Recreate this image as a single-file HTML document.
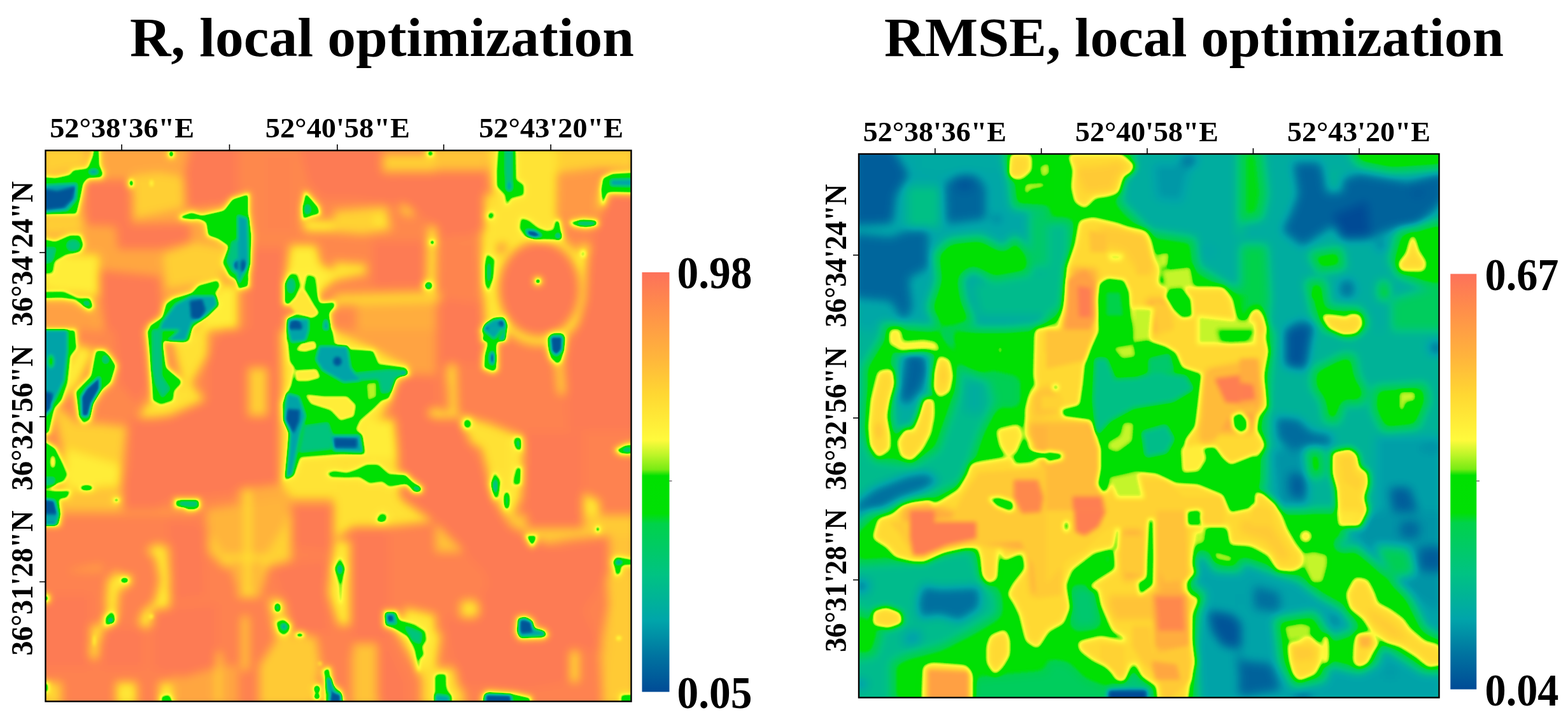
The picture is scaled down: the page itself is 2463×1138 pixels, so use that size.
<!DOCTYPE html>
<html lang="en"><head><meta charset="utf-8"><title>R and RMSE, local optimization</title>
<style>html,body{margin:0;padding:0;background:#fff;overflow:hidden}svg{display:block}text{font-family:"Liberation Serif",serif;font-weight:bold;fill:#000}</style></head>
<body>
<svg width="2463" height="1138" viewBox="0 0 2463 1138">
<defs>
<linearGradient id="cb" x1="0" y1="0" x2="0" y2="1"><stop offset="0.0000" stop-color="rgb(253,113,90)"/><stop offset="0.0800" stop-color="rgb(255,140,75)"/><stop offset="0.2000" stop-color="rgb(255,180,60)"/><stop offset="0.2900" stop-color="rgb(255,215,50)"/><stop offset="0.4000" stop-color="rgb(255,250,60)"/><stop offset="0.4350" stop-color="rgb(190,245,40)"/><stop offset="0.4700" stop-color="rgb(120,235,20)"/><stop offset="0.4850" stop-color="rgb(0,225,0)"/><stop offset="0.5750" stop-color="rgb(0,224,5)"/><stop offset="0.6000" stop-color="rgb(0,210,75)"/><stop offset="0.7200" stop-color="rgb(0,195,130)"/><stop offset="0.8300" stop-color="rgb(0,165,170)"/><stop offset="0.9150" stop-color="rgb(0,115,160)"/><stop offset="1.0000" stop-color="rgb(0,75,150)"/></linearGradient>
<filter id="cmL" x="0" y="0" width="1" height="1" filterUnits="objectBoundingBox" color-interpolation-filters="sRGB"><feGaussianBlur stdDeviation="2.4"/><feComponentTransfer><feFuncR type="table" tableValues="0.000 0.000 0.000 0.000 0.000 0.000 0.000 0.000 0.000 0.000 0.000 0.000 0.000 0.000 0.000 0.000 0.000 0.000 0.000 0.000 0.000 0.000 0.000 0.000 0.000 0.000 0.000 0.000 0.000 0.000 0.000 0.000 0.000 0.000 0.000 0.000 0.000 0.000 0.000 0.000 0.000 0.000 0.314 0.529 0.627 0.725 0.818 0.909 1.000 1.000 1.000 1.000 1.000 1.000 1.000 1.000 1.000 1.000 1.000 1.000 1.000 1.000 1.000 1.000 1.000 1.000 1.000 1.000 1.000 1.000 1.000 1.000 1.000 1.000 1.000 0.998 0.997 0.996 0.995 0.993 0.992"/><feFuncG type="table" tableValues="0.294 0.317 0.340 0.363 0.386 0.409 0.433 0.457 0.486 0.514 0.543 0.572 0.601 0.630 0.652 0.666 0.679 0.693 0.706 0.719 0.733 0.746 0.759 0.768 0.775 0.781 0.787 0.793 0.799 0.805 0.811 0.817 0.824 0.851 0.878 0.879 0.880 0.880 0.881 0.881 0.882 0.882 0.908 0.930 0.944 0.958 0.966 0.973 0.980 0.965 0.949 0.934 0.918 0.902 0.887 0.871 0.856 0.839 0.820 0.801 0.782 0.763 0.744 0.725 0.706 0.690 0.673 0.657 0.641 0.624 0.608 0.592 0.575 0.559 0.542 0.526 0.509 0.493 0.476 0.460 0.443"/><feFuncB type="table" tableValues="0.588 0.594 0.600 0.606 0.611 0.617 0.623 0.629 0.634 0.640 0.646 0.652 0.657 0.663 0.660 0.642 0.624 0.606 0.588 0.570 0.553 0.535 0.517 0.496 0.474 0.451 0.429 0.406 0.384 0.362 0.339 0.317 0.294 0.157 0.020 0.017 0.014 0.011 0.009 0.006 0.003 0.001 0.052 0.095 0.123 0.151 0.179 0.207 0.235 0.231 0.226 0.222 0.217 0.213 0.209 0.204 0.200 0.197 0.203 0.208 0.214 0.219 0.224 0.230 0.235 0.241 0.248 0.254 0.260 0.266 0.272 0.278 0.284 0.290 0.298 0.307 0.316 0.325 0.335 0.344 0.353"/><feFuncA type="linear" slope="0" intercept="1"/></feComponentTransfer></filter>
<filter id="cmR" x="0" y="0" width="1" height="1" filterUnits="objectBoundingBox" color-interpolation-filters="sRGB"><feGaussianBlur stdDeviation="3.5"/><feComponentTransfer><feFuncR type="table" tableValues="0.000 0.000 0.000 0.000 0.000 0.000 0.000 0.000 0.000 0.000 0.000 0.000 0.000 0.000 0.000 0.000 0.000 0.000 0.000 0.000 0.000 0.000 0.000 0.000 0.000 0.000 0.000 0.000 0.000 0.000 0.000 0.000 0.000 0.000 0.000 0.000 0.000 0.000 0.000 0.000 0.000 0.000 0.314 0.529 0.627 0.725 0.818 0.909 1.000 1.000 1.000 1.000 1.000 1.000 1.000 1.000 1.000 1.000 1.000 1.000 1.000 1.000 1.000 1.000 1.000 1.000 1.000 1.000 1.000 1.000 1.000 1.000 1.000 1.000 1.000 0.998 0.997 0.996 0.995 0.993 0.992"/><feFuncG type="table" tableValues="0.294 0.317 0.340 0.363 0.386 0.409 0.433 0.457 0.486 0.514 0.543 0.572 0.601 0.630 0.652 0.666 0.679 0.693 0.706 0.719 0.733 0.746 0.759 0.768 0.775 0.781 0.787 0.793 0.799 0.805 0.811 0.817 0.824 0.851 0.878 0.879 0.880 0.880 0.881 0.881 0.882 0.882 0.908 0.930 0.944 0.958 0.966 0.973 0.980 0.965 0.949 0.934 0.918 0.902 0.887 0.871 0.856 0.839 0.820 0.801 0.782 0.763 0.744 0.725 0.706 0.690 0.673 0.657 0.641 0.624 0.608 0.592 0.575 0.559 0.542 0.526 0.509 0.493 0.476 0.460 0.443"/><feFuncB type="table" tableValues="0.588 0.594 0.600 0.606 0.611 0.617 0.623 0.629 0.634 0.640 0.646 0.652 0.657 0.663 0.660 0.642 0.624 0.606 0.588 0.570 0.553 0.535 0.517 0.496 0.474 0.451 0.429 0.406 0.384 0.362 0.339 0.317 0.294 0.157 0.020 0.017 0.014 0.011 0.009 0.006 0.003 0.001 0.052 0.095 0.123 0.151 0.179 0.207 0.235 0.231 0.226 0.222 0.217 0.213 0.209 0.204 0.200 0.197 0.203 0.208 0.214 0.219 0.224 0.230 0.235 0.241 0.248 0.254 0.260 0.266 0.272 0.278 0.284 0.290 0.298 0.307 0.316 0.325 0.335 0.344 0.353"/><feFuncA type="linear" slope="0" intercept="1"/></feComponentTransfer></filter>
<filter id="b1" x="-0.1" y="-0.1" width="1.2" height="1.2" color-interpolation-filters="sRGB"><feGaussianBlur stdDeviation="7"/></filter>
<filter id="b3" x="-0.1" y="-0.1" width="1.2" height="1.2" color-interpolation-filters="sRGB"><feGaussianBlur stdDeviation="5"/></filter>
<filter id="b2" x="-0.1" y="-0.1" width="1.2" height="1.2" color-interpolation-filters="sRGB"><feGaussianBlur stdDeviation="4"/></filter>
<clipPath id="cl"><rect x="71.5" y="236.5" width="920" height="866"/></clipPath>
<clipPath id="cr"><rect x="1349" y="242" width="911.5" height="854.5"/></clipPath>
</defs>
<rect width="2463" height="1138" fill="#fff"/>
<text x="204" y="88" font-size="87" textLength="792" lengthAdjust="spacingAndGlyphs">R, local optimization</text>
<text x="1389" y="88" font-size="87" textLength="973" lengthAdjust="spacingAndGlyphs">RMSE, local optimization</text>
<g clip-path="url(#cl)">
<g filter="url(#cmL)"><rect x="51.5" y="216.5" width="960" height="906" fill="rgb(230,230,230)"/>
<g filter="url(#b1)"><polygon points="64,229 390,229 390,535 64,535" fill="rgb(214,214,214)"/>
<polygon points="133,284 205,284 205,349 184,354 136,352" fill="rgb(247,247,247)" stroke="rgb(247,247,247)" stroke-width="4" stroke-linejoin="round"/>
<polygon points="184,354 296,352 299,380 250,390 187,390" fill="rgb(247,247,247)" stroke="rgb(247,247,247)" stroke-width="4" stroke-linejoin="round"/>
<polygon points="156,426 250,436 255,492 225,535 169,535 159,466" fill="rgb(247,247,247)" stroke="rgb(247,247,247)" stroke-width="4" stroke-linejoin="round"/>
<polygon points="301,229 390,229 390,301 352,321 296,326 291,275" fill="rgb(247,247,247)" stroke="rgb(247,247,247)" stroke-width="4" stroke-linejoin="round"/>
<polygon points="64,477 123,482 148,499 148,535 64,535" fill="rgb(219,219,219)"/>
<polygon points="64,229 136,229 136,262 110,268 64,278" fill="rgb(186,186,186)"/>
<polygon points="207,275 250,270 289,278 289,326 210,344" fill="rgb(186,186,186)"/>
<polygon points="64,339 131,339 131,364 64,370" fill="rgb(186,186,186)"/>
<polygon points="64,400 156,400 156,466 64,456" fill="rgb(163,163,163)"/>
<polygon points="301,380 360,390 347,441 261,454 255,400" fill="rgb(186,186,186)"/>
<polygon points="345,449 390,449 390,535 301,535" fill="rgb(163,163,163)"/>
<polygon points="374,229 700,229 700,535 374,535" fill="rgb(237,237,237)"/>
<polygon points="469,229 599,229 599,273 700,283 700,321 611,321 560,313 509,313 484,288" fill="rgb(247,247,247)"/>
<polygon points="390,390 446,390 446,535 390,535" fill="rgb(247,247,247)"/>
<polygon points="415,242 461,242 461,364 415,364" fill="rgb(240,240,240)"/>
<polygon points="586,380 662,380 662,446 586,446" fill="rgb(247,247,247)"/>
<polygon points="601,242 685,242 685,270 601,270" fill="rgb(186,186,186)"/>
<polygon points="474,344 560,349 565,364 479,364" fill="rgb(163,163,163)"/>
<polygon points="456,385 497,385 504,415 525,426 573,415 576,431 525,441 497,466 466,466 448,441" fill="rgb(163,163,163)"/>
<ellipse cx="596" cy="347" rx="7.6" ry="7.6" fill="rgb(163,163,163)"/>
<ellipse cx="639" cy="326" rx="10.2" ry="10.2" fill="rgb(186,186,186)"/>
<ellipse cx="679" cy="381" rx="6.4" ry="6.4" fill="rgb(163,163,163)"/>
<ellipse cx="550" cy="357" rx="7.6" ry="7.6" fill="rgb(186,186,186)"/>
<polygon points="560,466 700,466 700,535 560,535" fill="rgb(209,209,209)"/>
<polygon points="684,229 999,229 999,535 684,535" fill="rgb(237,237,237)"/>
<polygon points="684,270 763,270 768,339 743,370 684,375" fill="rgb(247,247,247)"/>
<polygon points="684,380 756,380 761,466 756,535 684,535" fill="rgb(240,240,240)"/>
<polygon points="784,385 896,385 909,415 909,492 891,535 799,535 786,479" fill="rgb(247,247,247)" stroke="rgb(247,247,247)" stroke-width="4" stroke-linejoin="round"/>
<polygon points="949,308 999,308 999,535 914,535 916,441 937,390" fill="rgb(247,247,247)" stroke="rgb(247,247,247)" stroke-width="4" stroke-linejoin="round"/>
<polygon points="875,275 942,268 942,339 881,344" fill="rgb(224,224,224)"/>
<polygon points="766,229 875,229 875,344 886,380 768,385 758,364 776,326" fill="rgb(171,171,171)"/>
<polygon points="875,229 999,229 999,268 942,265 875,273" fill="rgb(186,186,186)"/>
<polygon points="909,385 937,385 921,436 911,446" fill="rgb(163,163,163)"/>
<polygon points="758,385 781,385 786,479 758,466" fill="rgb(163,163,163)"/>
<polygon points="684,229 766,229 766,268 684,268" fill="rgb(194,194,194)"/>
<polygon points="64,519 390,519 390,825 64,825" fill="rgb(237,237,237)"/>
<polygon points="179,519 225,519 235,603 215,634 187,603" fill="rgb(247,247,247)"/>
<polygon points="210,670 266,654 327,629 327,558 352,519 390,519 390,772 296,782 271,782 199,825 194,772 207,721" fill="rgb(247,247,247)" stroke="rgb(247,247,247)" stroke-width="4" stroke-linejoin="round"/>
<polygon points="97,802 301,802 301,825 97,825" fill="rgb(219,219,219)"/>
<polygon points="266,519 327,519 327,558 301,603 322,629 266,654 215,660 230,634 286,603" fill="rgb(173,173,173)"/>
<polygon points="80,629 123,665 154,665 199,670 189,772 97,772 97,705" fill="rgb(186,186,186)"/>
<polygon points="103,705 189,731 189,769 105,769" fill="rgb(163,163,163)"/>
<polygon points="123,542 148,550 123,603 97,629 105,578" fill="rgb(163,163,163)"/>
<polygon points="105,774 192,769 192,802 97,802" fill="rgb(189,189,189)"/>
<polyline points="312,724 342,717" fill="none" stroke="rgb(189,189,189)" stroke-width="5.1" stroke-linecap="round" stroke-linejoin="round"/>
<polygon points="374,519 700,519 700,825 374,825" fill="rgb(237,237,237)"/>
<polygon points="374,519 441,519 441,756 374,756" fill="rgb(247,247,247)"/>
<polygon points="390,578 420,578 420,654 390,654" fill="rgb(186,186,186)"/>
<polygon points="622,591 700,591 700,782 662,772 637,731 622,680" fill="rgb(247,247,247)" stroke="rgb(247,247,247)" stroke-width="4" stroke-linejoin="round"/>
<polygon points="525,519 700,519 700,591 642,588 637,575 594,573 586,552 535,542" fill="rgb(217,217,217)"/>
<polygon points="438,756 662,772 700,782 700,825 374,825 374,756" fill="rgb(209,209,209)"/>
<polygon points="458,792 525,792 525,825 458,825" fill="rgb(247,247,247)"/>
<polygon points="441,519 525,519 594,552 642,578 622,603 601,654 576,665 576,721 627,731 662,772 611,782 458,782 438,756 443,603" fill="rgb(171,171,171)"/>
<polygon points="576,665 622,680 627,726 576,721" fill="rgb(178,178,178)"/>
<ellipse cx="683" cy="649" rx="10.2" ry="6.4" fill="rgb(163,163,163)"/>
<polygon points="684,519 999,519 999,825 684,825" fill="rgb(242,242,242)"/>
<polygon points="684,642 768,665 819,685 819,782 799,825 776,782 756,705 707,680 684,670" fill="rgb(173,173,173)"/>
<polygon points="909,772 942,787 942,825 909,825" fill="rgb(168,168,168)"/>
<polygon points="972,540 999,540 999,573 972,565" fill="rgb(191,191,191)"/>
<polygon points="702,578 717,578 717,603 702,603" fill="rgb(191,191,191)"/>
<polygon points="825,680 909,680 909,825 825,825" fill="rgb(247,247,247)"/>
<polygon points="684,705 756,726 774,825 684,825" fill="rgb(247,247,247)"/>
<polygon points="64,809 390,809 390,1115 64,1115" fill="rgb(242,242,242)"/>
<polygon points="169,909 207,904 205,919 187,929 184,970 169,980 166,944" fill="rgb(168,168,168)"/>
<polygon points="250,924 268,927 266,955 245,975 230,985 217,980 225,960 245,944" fill="rgb(161,161,161)"/>
<polygon points="235,858 266,858 268,924 250,924 250,881 230,868" fill="rgb(184,184,184)"/>
<polygon points="327,809 390,809 390,893 352,893 327,868" fill="rgb(189,189,189)"/>
<polygon points="143,983 156,983 154,1034 143,1034" fill="rgb(168,168,168)"/>
<polygon points="64,1072 97,1072 97,1109 64,1109" fill="rgb(184,184,184)"/>
<polygon points="182,1072 215,1072 215,1109 182,1109" fill="rgb(168,168,168)"/>
<polygon points="250,1072 271,1072 271,1109 250,1109" fill="rgb(168,168,168)"/>
<polygon points="271,1046 390,1046 390,1109 271,1109" fill="rgb(214,214,214)"/>
<polygon points="110,842 161,842 161,899 110,899" fill="rgb(219,219,219)"/>
<polygon points="374,809 700,809 700,1115 374,1115" fill="rgb(242,242,242)"/>
<polygon points="374,809 458,809 458,881 420,893 407,939 374,939" fill="rgb(184,184,184)"/>
<polygon points="374,809 402,809 402,888 374,888" fill="rgb(168,168,168)"/>
<polygon points="525,850 550,850 550,983 532,983 515,932" fill="rgb(168,168,168)"/>
<polygon points="420,939 458,944 458,1000 497,1000 504,1046 492,1109 407,1109 407,1046 433,1006" fill="rgb(189,189,189)"/>
<polygon points="637,955 700,970 700,1072 660,1059 624,995" fill="rgb(168,168,168)"/>
<polygon points="581,809 622,809 611,825 586,825" fill="rgb(168,168,168)"/>
<polygon points="550,1026 586,1026 599,1109 550,1109" fill="rgb(217,217,217)"/>
<polygon points="555,868 611,868 611,960 601,995 637,1072 637,1109 599,1109 560,1011" fill="rgb(247,247,247)"/>
<polygon points="433,893 515,893 515,995 458,995" fill="rgb(247,247,247)"/>
<polygon points="684,809 999,809 999,1115 684,1115" fill="rgb(242,242,242)"/>
<polygon points="789,809 999,809 999,842 960,842 896,848 845,858 807,837" fill="rgb(189,189,189)"/>
<polygon points="881,876 921,876 921,919 886,919" fill="rgb(194,194,194)"/>
<polygon points="957,842 999,842 999,1109 947,1109 942,1021 957,944" fill="rgb(194,194,194)"/>
<ellipse cx="972" cy="1003" rx="10.2" ry="10.2" fill="rgb(158,158,158)"/>
<polygon points="723,944 768,944 768,975 723,975" fill="rgb(189,189,189)"/>
<polygon points="896,1023 909,1023 909,1072 896,1072" fill="rgb(173,173,173)"/>
<polygon points="684,809 725,809 725,868 684,868" fill="rgb(194,194,194)"/>
<polygon points="730,809 789,809 819,868 870,919 921,970 947,1021 896,1021 891,1072 819,1085 730,1072 717,995 768,919" fill="rgb(247,247,247)"/>
<polygon points="524,331 608,324 615,362 570,369 524,365" fill="rgb(184,184,184)"/>
<polygon points="524,411 577,415 570,433 524,433" fill="rgb(173,173,173)"/>
<ellipse cx="596" cy="347" rx="9.4" ry="9.4" fill="rgb(168,168,168)"/>
<ellipse cx="642" cy="328" rx="11.3" ry="11.3" fill="rgb(184,184,184)"/>
<polyline points="679,362 677,464" fill="none" stroke="rgb(168,168,168)" stroke-width="13.6" stroke-linecap="round" stroke-linejoin="round"/>
<polyline points="532,471 683,467" fill="none" stroke="rgb(184,184,184)" stroke-width="18.9" stroke-linecap="round" stroke-linejoin="round"/>
<polyline points="766,313 764,396 770,501" fill="none" stroke="rgb(168,168,168)" stroke-width="16.6" stroke-linecap="round" stroke-linejoin="round"/>
<ellipse cx="847" cy="454" rx="77.5" ry="88.8" fill="rgb(168,168,168)"/>
<ellipse cx="847" cy="454" rx="63.5" ry="74.8" fill="rgb(247,247,247)"/>
<polyline points="946,309 944,396 914,433" fill="none" stroke="rgb(173,173,173)" stroke-width="11.3" stroke-linecap="round" stroke-linejoin="round"/>
<polyline points="878,570 882,615" fill="none" stroke="rgb(178,178,178)" stroke-width="11.3" stroke-linecap="round" stroke-linejoin="round"/>
<polyline points="710,577 713,667" fill="none" stroke="rgb(178,178,178)" stroke-width="12.8" stroke-linecap="round" stroke-linejoin="round"/>
<polygon points="948,324 1000,324 1000,675 895,675 891,577 921,471 925,403" fill="rgb(247,247,247)" stroke="rgb(247,247,247)" stroke-width="4" stroke-linejoin="round"/>
<polygon points="626,275 759,275 759,362 698,362 626,313" fill="rgb(247,247,247)" stroke="rgb(247,247,247)" stroke-width="4" stroke-linejoin="round"/>
<polygon points="589,381 664,381 664,449 589,449" fill="rgb(247,247,247)" stroke="rgb(247,247,247)" stroke-width="4" stroke-linejoin="round"/>
<polygon points="694,471 755,479 755,570 694,570" fill="rgb(247,247,247)" stroke="rgb(247,247,247)" stroke-width="4" stroke-linejoin="round"/>
<polygon points="95,770 187,763 187,797 95,801" fill="rgb(194,194,194)"/>
<polyline points="183,904 179,958 148,1011 147,1030" fill="none" stroke="rgb(168,168,168)" stroke-width="11.5" stroke-linecap="round" stroke-linejoin="round"/>
<polyline points="248,862 259,912 248,954 229,980" fill="none" stroke="rgb(168,168,168)" stroke-width="15.3" stroke-linecap="round" stroke-linejoin="round"/>
<polygon points="324,801 447,782 450,820 412,881 405,931 374,931 359,881 324,828" fill="rgb(204,204,204)"/>
<polyline points="389,766 389,935" fill="none" stroke="rgb(168,168,168)" stroke-width="8.4" stroke-linecap="round" stroke-linejoin="round"/>
<polyline points="355,877 416,877" fill="none" stroke="rgb(173,173,173)" stroke-width="8.4" stroke-linecap="round" stroke-linejoin="round"/>
<polyline points="385,973 385,1049" fill="none" stroke="rgb(189,189,189)" stroke-width="11.5" stroke-linecap="round" stroke-linejoin="round"/>
<polyline points="343,1030 343,1102" fill="none" stroke="rgb(189,189,189)" stroke-width="11.5" stroke-linecap="round" stroke-linejoin="round"/>
<polygon points="206,659 439,659 439,759 317,774 271,782 202,789" fill="rgb(247,247,247)" stroke="rgb(247,247,247)" stroke-width="4" stroke-linejoin="round"/>
<polygon points="267,820 317,828 320,935 271,942" fill="rgb(247,247,247)" stroke="rgb(247,247,247)" stroke-width="4" stroke-linejoin="round"/>
<polygon points="64,820 187,812 187,881 64,904" fill="rgb(242,242,242)"/>
<polygon points="64,935 141,935 141,1049 64,1049" fill="rgb(247,247,247)"/>
<polygon points="160,988 225,988 225,1049 160,1049" fill="rgb(247,247,247)"/>
<polygon points="240,958 340,950 340,1049 286,1065 240,1049" fill="rgb(247,247,247)"/>
<polygon points="458,793 519,793 519,866 458,858" fill="rgb(247,247,247)"/>
<polygon points="427,889 512,881 512,973 454,958" fill="rgb(247,247,247)"/>
<polygon points="524,713 620,705 631,782 685,793 677,820 608,828 555,828 524,850" fill="rgb(173,173,173)"/>
<polygon points="570,659 620,659 624,721 574,721" fill="rgb(163,163,163)"/>
<polygon points="800,690 823,690 819,782 800,789" fill="rgb(168,168,168)"/>
<polygon points="868,873 914,866 918,919 876,927" fill="rgb(199,199,199)"/>
<polygon points="952,904 1000,904 1000,1110 945,1110 960,1011" fill="rgb(189,189,189)"/>
<ellipse cx="738" cy="958" rx="15.3" ry="15.3" fill="rgb(173,173,173)"/>
<polygon points="662,980 693,996 685,1049 658,1065" fill="rgb(168,168,168)"/>
<polygon points="555,1011 593,1011 593,1110 555,1110" fill="rgb(194,194,194)"/>
<polygon points="662,1049 723,1049 731,1110 662,1110" fill="rgb(178,178,178)"/>
<polygon points="823,682 914,682 914,828 830,828" fill="rgb(247,247,247)" stroke="rgb(247,247,247)" stroke-width="4" stroke-linejoin="round"/>
<polygon points="555,835 608,835 608,1003 555,1003" fill="rgb(247,247,247)" stroke="rgb(247,247,247)" stroke-width="4" stroke-linejoin="round"/>
<polygon points="700,973 807,973 807,1072 723,1080" fill="rgb(247,247,247)" stroke="rgb(247,247,247)" stroke-width="4" stroke-linejoin="round"/>
<polygon points="624,659 723,659 761,763 800,828 876,866 952,850 952,904 914,958 933,1011 891,1011 861,935 761,896 685,820 631,782" fill="rgb(247,247,247)" stroke="rgb(247,247,247)" stroke-width="4" stroke-linejoin="round"/></g>
<g filter="url(#b2)"><polygon points="64,278 87,280 110,275 115,268 138,265 146,245 148,229 155,229 156,260 162,273 159,279 138,280 131,288 127,308 120,336 64,336" fill="rgb(153,153,153)" stroke="rgb(153,153,153)" stroke-width="6" stroke-linejoin="round"/>
<polygon points="64,375 87,380 110,370 126,370 131,385 126,395 103,400 85,410 82,428 64,431" fill="rgb(153,153,153)" stroke="rgb(153,153,153)" stroke-width="6" stroke-linejoin="round"/>
<polygon points="64,459 100,459 123,469 141,469 146,482 140,487 118,471 97,468 64,469" fill="rgb(153,153,153)" stroke="rgb(153,153,153)" stroke-width="6" stroke-linejoin="round"/>
<polygon points="284,340 301,334 317,339 352,331 365,313 390,305 390,451 360,433 350,413 360,387 342,375 327,370 324,349 312,344 301,345 284,343" fill="rgb(153,153,153)" stroke="rgb(153,153,153)" stroke-width="6" stroke-linejoin="round"/>
<polygon points="233,535 235,512 255,499 261,477 273,469 301,461 312,449 342,441 345,449 337,461 342,479 327,494 301,515 296,535" fill="rgb(153,153,153)" stroke="rgb(153,153,153)" stroke-width="6" stroke-linejoin="round"/>
<ellipse cx="206" cy="288" rx="5.8" ry="8.9" fill="rgb(153,153,153)"/>
<ellipse cx="269" cy="242" rx="6.3" ry="8.4" fill="rgb(153,153,153)"/>
<polygon points="374,321 390,334 395,370 393,415 387,451 374,454" fill="rgb(153,153,153)" stroke="rgb(153,153,153)" stroke-width="6" stroke-linejoin="round"/>
<polygon points="480,303 489,313 500,326 502,336 489,339 476,344 475,326" fill="rgb(153,153,153)" stroke="rgb(153,153,153)" stroke-width="6" stroke-linejoin="round"/>
<polygon points="456,431 466,432 471,449 464,466 453,479 447,477 447,446" fill="rgb(153,153,153)" stroke="rgb(153,153,153)" stroke-width="6" stroke-linejoin="round"/>
<polygon points="483,433 494,436 499,466 502,477 525,475 526,482 517,492 522,535 451,535 451,502 464,494 494,499 502,492 492,477 479,454" fill="rgb(153,153,153)" stroke="rgb(153,153,153)" stroke-width="6" stroke-linejoin="round"/>
<ellipse cx="676" cy="241" rx="8.1" ry="8.1" fill="rgb(153,153,153)"/>
<ellipse cx="673" cy="449" rx="9.4" ry="9.4" fill="rgb(153,153,153)"/>
<ellipse cx="679" cy="381" rx="6.3" ry="6.3" fill="rgb(153,153,153)"/>
<polygon points="784,229 809,229 810,283 822,291 822,306 802,311 796,321 794,306 781,293 781,268" fill="rgb(153,153,153)" stroke="rgb(153,153,153)" stroke-width="6" stroke-linejoin="round"/>
<ellipse cx="771" cy="339" rx="7.6" ry="8.6" fill="rgb(153,153,153)" transform="rotate(30 771 339)"/>
<polygon points="819,344 830,347 845,359 858,364 870,362 873,347 878,347 882,370 881,376 845,376 825,370 817,359" fill="rgb(153,153,153)" stroke="rgb(153,153,153)" stroke-width="6" stroke-linejoin="round"/>
<polygon points="896,349 916,345 937,347 938,353 921,357 901,354" fill="rgb(153,153,153)" stroke="rgb(153,153,153)" stroke-width="6" stroke-linejoin="round"/>
<polygon points="947,280 962,273 999,271 999,303 954,302 947,321 944,298" fill="rgb(153,153,153)" stroke="rgb(153,153,153)" stroke-width="6" stroke-linejoin="round"/>
<polygon points="765,400 776,408 774,436 767,457 762,446 762,415" fill="rgb(153,153,153)" stroke="rgb(153,153,153)" stroke-width="6" stroke-linejoin="round"/>
<ellipse cx="845" cy="442" rx="7.3" ry="7.3" fill="rgb(153,153,153)"/>
<polygon points="758,535 761,510 776,501 791,499 796,510 794,535" fill="rgb(153,153,153)" stroke="rgb(153,153,153)" stroke-width="6" stroke-linejoin="round"/>
<ellipse cx="875" cy="527" rx="14.0" ry="6.3" fill="rgb(153,153,153)"/>
<polygon points="64,519 118,519 120,547 110,560 105,603 97,629 85,642 77,680 64,685" fill="rgb(153,153,153)" stroke="rgb(153,153,153)" stroke-width="6" stroke-linejoin="round"/>
<ellipse cx="80" cy="568" rx="7.6" ry="13.2" fill="rgb(153,153,153)"/>
<polygon points="64,690 87,705 97,726 105,746 100,756 87,761 77,767 64,767" fill="rgb(153,153,153)" stroke="rgb(153,153,153)" stroke-width="6" stroke-linejoin="round"/>
<polygon points="64,772 110,772 105,782 92,784 95,807 92,825 64,825" fill="rgb(153,153,153)" stroke="rgb(153,153,153)" stroke-width="6" stroke-linejoin="round"/>
<polygon points="151,551 164,551 176,565 182,575 174,601 159,614 146,634 141,660 131,665 124,654 119,616 143,591 148,565" fill="rgb(153,153,153)" stroke="rgb(153,153,153)" stroke-width="6" stroke-linejoin="round"/>
<polygon points="231,519 281,519 266,532 255,537 261,578 284,598 284,603 273,614 271,629 253,635 240,629 238,598 235,558" fill="rgb(153,153,153)" stroke="rgb(153,153,153)" stroke-width="6" stroke-linejoin="round"/>
<ellipse cx="136" cy="767" rx="12.7" ry="6.3" fill="rgb(153,153,153)"/>
<ellipse cx="183" cy="786" rx="6.8" ry="5.3" fill="rgb(153,153,153)"/>
<polygon points="276,786 312,786 313,797 306,801 294,801 291,797 276,796" fill="rgb(153,153,153)" stroke="rgb(153,153,153)" stroke-width="6" stroke-linejoin="round"/>
<polygon points="451,519 522,519 525,542 550,550 586,552 594,573 637,578 642,588 622,593 611,626 599,629 586,642 565,660 558,675 568,685 572,713 535,713 471,718 461,746 448,754 453,705 456,680 446,660 444,634 458,606 464,578 456,568" fill="rgb(153,153,153)" stroke="rgb(153,153,153)" stroke-width="6" stroke-linejoin="round"/>
<polygon points="515,744 525,741 545,744 560,739 576,731 594,731 611,746 637,746 647,756 662,767 661,773 650,773 639,761 611,764 601,756 581,759 565,749 545,750 520,749" fill="rgb(153,153,153)" stroke="rgb(153,153,153)" stroke-width="6" stroke-linejoin="round"/>
<ellipse cx="601" cy="812" rx="9.4" ry="7.6" fill="rgb(153,153,153)"/>
<polygon points="756,519 791,519 780,542 780,581 774,584 760,578 761,558 766,540" fill="rgb(153,153,153)" stroke="rgb(153,153,153)" stroke-width="6" stroke-linejoin="round"/>
<polygon points="861,530 888,530 886,552 881,568 875,572 865,563 861,547" fill="rgb(153,153,153)" stroke="rgb(153,153,153)" stroke-width="6" stroke-linejoin="round"/>
<ellipse cx="734" cy="666" rx="9.4" ry="10.6" fill="rgb(153,153,153)"/>
<polygon points="809,688 818,688 818,708 812,705 808,695" fill="rgb(153,153,153)" stroke="rgb(153,153,153)" stroke-width="6" stroke-linejoin="round"/>
<polygon points="968,707 983,700 999,698 999,713 975,713" fill="rgb(153,153,153)" stroke="rgb(153,153,153)" stroke-width="6" stroke-linejoin="round"/>
<polygon points="812,736 818,735 817,761 807,761 808,751" fill="rgb(153,153,153)" stroke="rgb(153,153,153)" stroke-width="6" stroke-linejoin="round"/>
<polygon points="777,744 785,756 782,782 777,783 771,761" fill="rgb(153,153,153)" stroke="rgb(153,153,153)" stroke-width="6" stroke-linejoin="round"/>
<ellipse cx="796" cy="787" rx="6.8" ry="16.5" fill="rgb(153,153,153)"/>
<polygon points="64,809 92,809 87,822 64,823" fill="rgb(153,153,153)" stroke="rgb(153,153,153)" stroke-width="6" stroke-linejoin="round"/>
<ellipse cx="196" cy="912" rx="8.9" ry="6.8" fill="rgb(153,153,153)"/>
<polygon points="166,970 175,962 180,967 180,978 166,983" fill="rgb(153,153,153)" stroke="rgb(153,153,153)" stroke-width="6" stroke-linejoin="round"/>
<polygon points="64,934 76,937 76,944 64,947" fill="rgb(153,153,153)" stroke="rgb(153,153,153)" stroke-width="6" stroke-linejoin="round"/>
<polygon points="254,1095 266,1093 273,1109 254,1109" fill="rgb(153,153,153)" stroke="rgb(153,153,153)" stroke-width="6" stroke-linejoin="round"/>
<polygon points="64,1074 75,1074 75,1087 64,1087" fill="rgb(153,153,153)" stroke="rgb(153,153,153)" stroke-width="6" stroke-linejoin="round"/>
<polygon points="534,878 541,893 536,919 535,947 534,919 526,893" fill="rgb(153,153,153)" stroke="rgb(153,153,153)" stroke-width="6" stroke-linejoin="round"/>
<ellipse cx="436" cy="955" rx="7.8" ry="10.1" fill="rgb(153,153,153)"/>
<polygon points="434,978 446,974 456,983 453,993 446,998 438,993" fill="rgb(153,153,153)" stroke="rgb(153,153,153)" stroke-width="6" stroke-linejoin="round"/>
<ellipse cx="471" cy="998" rx="9.4" ry="5.8" fill="rgb(153,153,153)"/>
<polygon points="605,962 622,962 627,975 652,983 667,993 669,1006 662,1016 665,1029 658,1036 658,1054 652,1021 642,1000 619,988 605,983" fill="rgb(153,153,153)" stroke="rgb(153,153,153)" stroke-width="6" stroke-linejoin="round"/>
<polygon points="508,1054 517,1050 521,1077 535,1087 540,1109 512,1109 512,1072" fill="rgb(153,153,153)" stroke="rgb(153,153,153)" stroke-width="6" stroke-linejoin="round"/>
<ellipse cx="498" cy="1083" rx="7.6" ry="8.9" fill="rgb(153,153,153)"/>
<ellipse cx="498" cy="1095" rx="7.6" ry="7.6" fill="rgb(153,153,153)"/>
<polygon points="687,1060 700,1060 700,1109 689,1109" fill="rgb(153,153,153)" stroke="rgb(153,153,153)" stroke-width="6" stroke-linejoin="round"/>
<ellipse cx="599" cy="817" rx="10.1" ry="5.8" fill="rgb(153,153,153)"/>
<polygon points="827,842 842,842 841,850 836,858 831,851" fill="rgb(153,153,153)" stroke="rgb(153,153,153)" stroke-width="6" stroke-linejoin="round"/>
<ellipse cx="939" cy="832" rx="5.3" ry="7.3" fill="rgb(153,153,153)"/>
<polygon points="963,883 968,876 975,877 999,881 999,887 976,888 974,901 968,904 966,893" fill="rgb(153,153,153)" stroke="rgb(153,153,153)" stroke-width="6" stroke-linejoin="round"/>
<polygon points="814,972 825,970 836,976 839,988 855,992 859,998 853,1002 817,1003 812,993" fill="rgb(153,153,153)" stroke="rgb(153,153,153)" stroke-width="6" stroke-linejoin="round"/>
<polygon points="684,1062 696,1062 702,1085 709,1095 709,1109 684,1109" fill="rgb(153,153,153)" stroke="rgb(153,153,153)" stroke-width="6" stroke-linejoin="round"/>
<polygon points="760,1093 766,1088 807,1091 833,1097 833,1109 758,1109" fill="rgb(153,153,153)" stroke="rgb(153,153,153)" stroke-width="6" stroke-linejoin="round"/>
<polygon points="976,1093 999,1092 999,1109 976,1109" fill="rgb(153,153,153)" stroke="rgb(153,153,153)" stroke-width="6" stroke-linejoin="round"/></g>
<polygon points="64,278 87,280 110,275 115,268 138,265 146,245 148,229 155,229 156,260 162,273 159,279 138,280 131,288 127,308 120,336 64,336" fill="rgb(117,117,117)" stroke="rgb(117,117,117)" stroke-width="1.5" stroke-linejoin="round"/>
<polygon points="64,292 120,289 119,313 105,330 64,334" fill="rgb(43,43,43)" stroke="rgb(43,43,43)" stroke-width="1.5" stroke-linejoin="round"/>
<polygon points="64,297 90,301 118,294 113,313 100,326 64,330" fill="rgb(5,5,5)" stroke="rgb(5,5,5)" stroke-width="1.5" stroke-linejoin="round"/>
<ellipse cx="147" cy="270" rx="7.1" ry="4.1" fill="rgb(43,43,43)"/>
<polygon points="64,375 87,380 110,370 126,370 131,385 126,395 103,400 85,410 82,428 64,431" fill="rgb(117,117,117)" stroke="rgb(117,117,117)" stroke-width="1.5" stroke-linejoin="round"/>
<ellipse cx="115" cy="386" rx="10.2" ry="8.9" fill="rgb(74,74,74)"/>
<polygon points="64,390 87,390 82,410 64,415" fill="rgb(74,74,74)" stroke="rgb(74,74,74)" stroke-width="1.5" stroke-linejoin="round"/>
<polygon points="64,459 100,459 123,469 141,469 146,482 140,487 118,471 97,468 64,469" fill="rgb(117,117,117)" stroke="rgb(117,117,117)" stroke-width="1.5" stroke-linejoin="round"/>
<ellipse cx="136" cy="477" rx="5.1" ry="3.8" fill="rgb(74,74,74)"/>
<polygon points="284,340 301,334 317,339 352,331 365,313 390,305 390,451 360,433 350,413 360,387 342,375 327,370 324,349 312,344 301,345 284,343" fill="rgb(117,117,117)" stroke="rgb(117,117,117)" stroke-width="1.5" stroke-linejoin="round"/>
<polygon points="365,380 390,375 390,441 365,426 357,410" fill="rgb(74,74,74)" stroke="rgb(74,74,74)" stroke-width="1.5" stroke-linejoin="round"/>
<ellipse cx="377" cy="417" rx="10.2" ry="10.2" fill="rgb(5,5,5)"/>
<polygon points="233,535 235,512 255,499 261,477 273,469 301,461 312,449 342,441 345,449 337,461 342,479 327,494 301,515 296,535" fill="rgb(117,117,117)" stroke="rgb(117,117,117)" stroke-width="1.5" stroke-linejoin="round"/>
<polygon points="276,479 301,466 337,466 340,479 322,497 301,507 291,535 245,535 255,507" fill="rgb(43,43,43)" stroke="rgb(43,43,43)" stroke-width="1.5" stroke-linejoin="round"/>
<polygon points="299,474 317,471 322,487 314,502 301,499" fill="rgb(5,5,5)" stroke="rgb(5,5,5)" stroke-width="1.5" stroke-linejoin="round"/>
<ellipse cx="206" cy="288" rx="2.8" ry="5.9" fill="rgb(92,92,92)"/>
<ellipse cx="238" cy="288" rx="2.0" ry="5.1" fill="rgb(143,143,143)"/>
<ellipse cx="269" cy="242" rx="3.3" ry="5.4" fill="rgb(92,92,92)"/>
<ellipse cx="77" cy="524" rx="10.2" ry="5.1" fill="rgb(43,43,43)"/>
<polygon points="374,321 390,334 395,370 393,415 387,451 374,454" fill="rgb(117,117,117)" stroke="rgb(117,117,117)" stroke-width="1.5" stroke-linejoin="round"/>
<polygon points="374,339 388,344 390,415 374,446" fill="rgb(43,43,43)" stroke="rgb(43,43,43)" stroke-width="1.5" stroke-linejoin="round"/>
<ellipse cx="382" cy="418" rx="3.8" ry="10.2" fill="rgb(5,5,5)"/>
<polygon points="480,303 489,313 500,326 502,336 489,339 476,344 475,326" fill="rgb(117,117,117)" stroke="rgb(117,117,117)" stroke-width="1.5" stroke-linejoin="round"/>
<ellipse cx="483" cy="329" rx="5.1" ry="7.6" fill="rgb(74,74,74)"/>
<polygon points="456,431 466,432 471,449 464,466 453,479 447,477 447,446" fill="rgb(117,117,117)" stroke="rgb(117,117,117)" stroke-width="1.5" stroke-linejoin="round"/>
<ellipse cx="457" cy="449" rx="6.4" ry="11.5" fill="rgb(74,74,74)"/>
<polygon points="483,433 494,436 499,466 502,477 525,475 526,482 517,492 522,535 451,535 451,502 464,494 494,499 502,492 492,477 479,454" fill="rgb(117,117,117)" stroke="rgb(117,117,117)" stroke-width="1.5" stroke-linejoin="round"/>
<polygon points="469,461 484,466 499,492 489,499 466,492 456,482" fill="rgb(168,168,168)" stroke="rgb(168,168,168)" stroke-width="1.5" stroke-linejoin="round"/>
<polygon points="453,502 484,502 484,535 453,535" fill="rgb(43,43,43)" stroke="rgb(43,43,43)" stroke-width="1.5" stroke-linejoin="round"/>
<ellipse cx="464" cy="515" rx="10.2" ry="12.7" fill="rgb(5,5,5)"/>
<ellipse cx="512" cy="515" rx="3.8" ry="12.7" fill="rgb(43,43,43)"/>
<ellipse cx="676" cy="241" rx="5.1" ry="5.1" fill="rgb(117,117,117)"/>
<ellipse cx="673" cy="449" rx="6.4" ry="6.4" fill="rgb(117,117,117)"/>
<ellipse cx="673" cy="449" rx="3.1" ry="3.1" fill="rgb(74,74,74)"/>
<ellipse cx="679" cy="381" rx="3.3" ry="3.3" fill="rgb(92,92,92)"/>
<polygon points="784,229 809,229 810,283 822,291 822,306 802,311 796,321 794,306 781,293 781,268" fill="rgb(117,117,117)" stroke="rgb(117,117,117)" stroke-width="1.5" stroke-linejoin="round"/>
<polygon points="794,229 804,229 804,298 796,298 794,268" fill="rgb(74,74,74)" stroke="rgb(74,74,74)" stroke-width="1.5" stroke-linejoin="round"/>
<ellipse cx="800" cy="293" rx="3.8" ry="7.6" fill="rgb(43,43,43)"/>
<ellipse cx="771" cy="339" rx="4.6" ry="5.6" fill="rgb(117,117,117)" transform="rotate(30 771 339)"/>
<polygon points="819,344 830,347 845,359 858,364 870,362 873,347 878,347 882,370 881,376 845,376 825,370 817,359" fill="rgb(117,117,117)" stroke="rgb(117,117,117)" stroke-width="1.5" stroke-linejoin="round"/>
<polygon points="827,362 840,363 850,370 840,373 830,370" fill="rgb(5,5,5)" stroke="rgb(5,5,5)" stroke-width="1.5" stroke-linejoin="round"/>
<ellipse cx="877" cy="371" rx="3.8" ry="3.8" fill="rgb(43,43,43)"/>
<polygon points="896,349 916,345 937,347 938,353 921,357 901,354" fill="rgb(117,117,117)" stroke="rgb(117,117,117)" stroke-width="1.5" stroke-linejoin="round"/>
<polygon points="909,349 934,349 934,354 909,354" fill="rgb(74,74,74)" stroke="rgb(74,74,74)" stroke-width="1.5" stroke-linejoin="round"/>
<polygon points="947,280 962,273 999,271 999,303 954,302 947,321 944,298" fill="rgb(117,117,117)" stroke="rgb(117,117,117)" stroke-width="1.5" stroke-linejoin="round"/>
<polygon points="960,283 999,282 999,292 960,291" fill="rgb(43,43,43)" stroke="rgb(43,43,43)" stroke-width="1.5" stroke-linejoin="round"/>
<polygon points="765,400 776,408 774,436 767,457 762,446 762,415" fill="rgb(117,117,117)" stroke="rgb(117,117,117)" stroke-width="1.5" stroke-linejoin="round"/>
<ellipse cx="768" cy="428" rx="2.5" ry="15.3" fill="rgb(74,74,74)"/>
<ellipse cx="845" cy="442" rx="4.3" ry="4.3" fill="rgb(92,92,92)"/>
<ellipse cx="916" cy="399" rx="5.1" ry="6.4" fill="rgb(143,143,143)"/>
<polygon points="758,535 761,510 776,501 791,499 796,510 794,535" fill="rgb(117,117,117)" stroke="rgb(117,117,117)" stroke-width="1.5" stroke-linejoin="round"/>
<polygon points="761,535 763,511 776,503 790,502 794,511 791,535" fill="rgb(43,43,43)" stroke="rgb(43,43,43)" stroke-width="1.5" stroke-linejoin="round"/>
<ellipse cx="763" cy="520" rx="4.6" ry="6.4" fill="rgb(5,5,5)"/>
<ellipse cx="788" cy="508" rx="4.6" ry="5.1" fill="rgb(5,5,5)"/>
<ellipse cx="875" cy="527" rx="11.0" ry="3.3" fill="rgb(92,92,92)"/>
<polygon points="64,519 118,519 120,547 110,560 105,603 97,629 85,642 77,680 64,685" fill="rgb(117,117,117)" stroke="rgb(117,117,117)" stroke-width="1.5" stroke-linejoin="round"/>
<polygon points="64,519 105,519 105,552 100,598 85,629 64,654" fill="rgb(43,43,43)" stroke="rgb(43,43,43)" stroke-width="1.5" stroke-linejoin="round"/>
<ellipse cx="80" cy="568" rx="4.6" ry="10.2" fill="rgb(117,117,117)"/>
<polygon points="64,614 82,619 80,642 64,660" fill="rgb(5,5,5)" stroke="rgb(5,5,5)" stroke-width="1.5" stroke-linejoin="round"/>
<polygon points="64,690 87,705 97,726 105,746 100,756 87,761 77,767 64,767" fill="rgb(117,117,117)" stroke="rgb(117,117,117)" stroke-width="1.5" stroke-linejoin="round"/>
<ellipse cx="83" cy="726" rx="3.8" ry="10.2" fill="rgb(163,163,163)"/>
<polygon points="64,751 85,751 85,761 64,761" fill="rgb(74,74,74)" stroke="rgb(74,74,74)" stroke-width="1.5" stroke-linejoin="round"/>
<polygon points="64,772 110,772 105,782 92,784 95,807 92,825 64,825" fill="rgb(117,117,117)" stroke="rgb(117,117,117)" stroke-width="1.5" stroke-linejoin="round"/>
<polygon points="64,784 85,787 90,807 87,825 64,825" fill="rgb(5,5,5)" stroke="rgb(5,5,5)" stroke-width="1.5" stroke-linejoin="round"/>
<polygon points="151,551 164,551 176,565 182,575 174,601 159,614 146,634 141,660 131,665 124,654 119,616 143,591 148,565" fill="rgb(117,117,117)" stroke="rgb(117,117,117)" stroke-width="1.5" stroke-linejoin="round"/>
<polygon points="136,611 156,593 156,611 143,634 138,654 129,654 128,624" fill="rgb(5,5,5)" stroke="rgb(5,5,5)" stroke-width="1.5" stroke-linejoin="round"/>
<ellipse cx="166" cy="565" rx="5.1" ry="6.4" fill="rgb(74,74,74)"/>
<polygon points="231,519 281,519 266,532 255,537 261,578 284,598 284,603 273,614 271,629 253,635 240,629 238,598 235,558" fill="rgb(117,117,117)" stroke="rgb(117,117,117)" stroke-width="1.5" stroke-linejoin="round"/>
<polygon points="240,519 253,519 253,591 266,611 255,624 245,603 240,578" fill="rgb(74,74,74)" stroke="rgb(74,74,74)" stroke-width="1.5" stroke-linejoin="round"/>
<ellipse cx="136" cy="767" rx="9.7" ry="3.3" fill="rgb(92,92,92)"/>
<ellipse cx="183" cy="786" rx="3.8" ry="2.3" fill="rgb(92,92,92)"/>
<polygon points="276,786 312,786 313,797 306,801 294,801 291,797 276,796" fill="rgb(117,117,117)" stroke="rgb(117,117,117)" stroke-width="1.5" stroke-linejoin="round"/>
<polygon points="284,788 309,788 309,795 284,795" fill="rgb(74,74,74)" stroke="rgb(74,74,74)" stroke-width="1.5" stroke-linejoin="round"/>
<polygon points="451,519 522,519 525,542 550,550 586,552 594,573 637,578 642,588 622,593 611,626 599,629 586,642 565,660 558,675 568,685 572,713 535,713 471,718 461,746 448,754 453,705 456,680 446,660 444,634 458,606 464,578 456,568" fill="rgb(117,117,117)" stroke="rgb(117,117,117)" stroke-width="1.5" stroke-linejoin="round"/>
<polygon points="474,540 494,537 497,547 479,552 466,550" fill="rgb(163,163,163)" stroke="rgb(163,163,163)" stroke-width="1.5" stroke-linejoin="round"/>
<polygon points="464,583 497,581 502,593 484,598 466,598" fill="rgb(163,163,163)" stroke="rgb(163,163,163)" stroke-width="1.5" stroke-linejoin="round"/>
<polygon points="481,621 509,624 545,624 558,637 555,654 535,660 520,644 489,634" fill="rgb(163,163,163)" stroke="rgb(163,163,163)" stroke-width="1.5" stroke-linejoin="round"/>
<polygon points="576,603 591,601 591,624 578,629" fill="rgb(143,143,143)" stroke="rgb(143,143,143)" stroke-width="1.5" stroke-linejoin="round"/>
<polygon points="502,545 545,545 550,578 565,598 540,600 507,581 497,565" fill="rgb(43,43,43)" stroke="rgb(43,43,43)" stroke-width="1.5" stroke-linejoin="round"/>
<ellipse cx="530" cy="568" rx="6.4" ry="7.1" fill="rgb(5,5,5)"/>
<polygon points="560,587 611,582 639,584 620,595 613,615 600,617 595,595 565,597" fill="rgb(71,71,71)" stroke="rgb(71,71,71)" stroke-width="1.5" stroke-linejoin="round"/>
<ellipse cx="634" cy="587" rx="2.5" ry="2.5" fill="rgb(5,5,5)"/>
<polygon points="451,619 469,624 479,654 471,680 466,705 458,746 451,749 455,705 456,680 447,660" fill="rgb(43,43,43)" stroke="rgb(43,43,43)" stroke-width="1.5" stroke-linejoin="round"/>
<polygon points="452,644 470,645 469,662 461,680 456,670 450,660" fill="rgb(5,5,5)" stroke="rgb(5,5,5)" stroke-width="1.5" stroke-linejoin="round"/>
<polygon points="479,670 515,665 522,685 520,705 471,710" fill="rgb(74,74,74)" stroke="rgb(74,74,74)" stroke-width="1.5" stroke-linejoin="round"/>
<polygon points="522,685 565,685 569,710 525,708" fill="rgb(43,43,43)" stroke="rgb(43,43,43)" stroke-width="1.5" stroke-linejoin="round"/>
<polygon points="525,689 560,690 560,703 525,703" fill="rgb(5,5,5)" stroke="rgb(5,5,5)" stroke-width="1.5" stroke-linejoin="round"/>
<polygon points="453,519 484,519 479,535 458,537" fill="rgb(43,43,43)" stroke="rgb(43,43,43)" stroke-width="1.5" stroke-linejoin="round"/>
<polygon points="515,744 525,741 545,744 560,739 576,731 594,731 611,746 637,746 647,756 662,767 661,773 650,773 639,761 611,764 601,756 581,759 565,749 545,750 520,749" fill="rgb(117,117,117)" stroke="rgb(117,117,117)" stroke-width="1.5" stroke-linejoin="round"/>
<ellipse cx="655" cy="768" rx="5.1" ry="3.8" fill="rgb(74,74,74)"/>
<ellipse cx="601" cy="812" rx="6.4" ry="4.6" fill="rgb(117,117,117)"/>
<polygon points="756,519 791,519 780,542 780,581 774,584 760,578 761,558 766,540" fill="rgb(117,117,117)" stroke="rgb(117,117,117)" stroke-width="1.5" stroke-linejoin="round"/>
<ellipse cx="773" cy="563" rx="3.6" ry="10.2" fill="rgb(5,5,5)"/>
<polygon points="761,519 786,519 776,532" fill="rgb(43,43,43)" stroke="rgb(43,43,43)" stroke-width="1.5" stroke-linejoin="round"/>
<polygon points="861,530 888,530 886,552 881,568 875,572 865,563 861,547" fill="rgb(117,117,117)" stroke="rgb(117,117,117)" stroke-width="1.5" stroke-linejoin="round"/>
<polygon points="865,530 883,530 882,550 874,558 867,552" fill="rgb(5,5,5)" stroke="rgb(5,5,5)" stroke-width="1.5" stroke-linejoin="round"/>
<ellipse cx="734" cy="666" rx="6.4" ry="7.6" fill="rgb(117,117,117)"/>
<polygon points="809,688 818,688 818,708 812,705 808,695" fill="rgb(117,117,117)" stroke="rgb(117,117,117)" stroke-width="1.5" stroke-linejoin="round"/>
<ellipse cx="814" cy="698" rx="2.5" ry="6.4" fill="rgb(74,74,74)"/>
<polygon points="968,707 983,700 999,698 999,713 975,713" fill="rgb(117,117,117)" stroke="rgb(117,117,117)" stroke-width="1.5" stroke-linejoin="round"/>
<ellipse cx="985" cy="707" rx="6.4" ry="3.8" fill="rgb(74,74,74)"/>
<polygon points="812,736 818,735 817,761 807,761 808,751" fill="rgb(117,117,117)" stroke="rgb(117,117,117)" stroke-width="1.5" stroke-linejoin="round"/>
<polygon points="777,744 785,756 782,782 777,783 771,761" fill="rgb(117,117,117)" stroke="rgb(117,117,117)" stroke-width="1.5" stroke-linejoin="round"/>
<ellipse cx="778" cy="764" rx="2.5" ry="10.2" fill="rgb(43,43,43)"/>
<ellipse cx="796" cy="787" rx="3.8" ry="13.5" fill="rgb(92,92,92)"/>
<polygon points="64,809 92,809 87,822 64,823" fill="rgb(43,43,43)" stroke="rgb(43,43,43)" stroke-width="1.5" stroke-linejoin="round"/>
<ellipse cx="196" cy="912" rx="5.9" ry="3.8" fill="rgb(92,92,92)"/>
<polygon points="166,970 175,962 180,967 180,978 166,983" fill="rgb(117,117,117)" stroke="rgb(117,117,117)" stroke-width="1.5" stroke-linejoin="round"/>
<ellipse cx="174" cy="975" rx="3.1" ry="3.1" fill="rgb(43,43,43)"/>
<polygon points="64,934 76,937 76,944 64,947" fill="rgb(117,117,117)" stroke="rgb(117,117,117)" stroke-width="1.5" stroke-linejoin="round"/>
<ellipse cx="148" cy="1007" rx="1.5" ry="8.9" fill="rgb(143,143,143)"/>
<ellipse cx="238" cy="969" rx="3.1" ry="3.1" fill="rgb(143,143,143)"/>
<polygon points="254,1095 266,1093 273,1109 254,1109" fill="rgb(117,117,117)" stroke="rgb(117,117,117)" stroke-width="1.5" stroke-linejoin="round"/>
<polygon points="64,1074 75,1074 75,1087 64,1087" fill="rgb(117,117,117)" stroke="rgb(117,117,117)" stroke-width="1.5" stroke-linejoin="round"/>
<polygon points="534,878 541,893 536,919 535,947 534,919 526,893" fill="rgb(117,117,117)" stroke="rgb(117,117,117)" stroke-width="1.5" stroke-linejoin="round"/>
<ellipse cx="534" cy="895" rx="3.1" ry="6.4" fill="rgb(43,43,43)"/>
<ellipse cx="436" cy="955" rx="4.8" ry="7.1" fill="rgb(92,92,92)"/>
<polygon points="434,978 446,974 456,983 453,993 446,998 438,993" fill="rgb(117,117,117)" stroke="rgb(117,117,117)" stroke-width="1.5" stroke-linejoin="round"/>
<ellipse cx="446" cy="985" rx="4.6" ry="4.6" fill="rgb(43,43,43)"/>
<ellipse cx="471" cy="998" rx="6.4" ry="2.8" fill="rgb(92,92,92)"/>
<polygon points="605,962 622,962 627,975 652,983 667,993 669,1006 662,1016 665,1029 658,1036 658,1054 652,1021 642,1000 619,988 605,983" fill="rgb(117,117,117)" stroke="rgb(117,117,117)" stroke-width="1.5" stroke-linejoin="round"/>
<polygon points="606,965 619,965 622,980 609,980" fill="rgb(43,43,43)" stroke="rgb(43,43,43)" stroke-width="1.5" stroke-linejoin="round"/>
<ellipse cx="613" cy="972" rx="4.6" ry="5.1" fill="rgb(5,5,5)"/>
<polygon points="637,985 662,995 660,1011 647,1006" fill="rgb(74,74,74)" stroke="rgb(74,74,74)" stroke-width="1.5" stroke-linejoin="round"/>
<polygon points="508,1054 517,1050 521,1077 535,1087 540,1109 512,1109 512,1072" fill="rgb(117,117,117)" stroke="rgb(117,117,117)" stroke-width="1.5" stroke-linejoin="round"/>
<polygon points="513,1067 520,1067 525,1087 515,1087" fill="rgb(43,43,43)" stroke="rgb(43,43,43)" stroke-width="1.5" stroke-linejoin="round"/>
<polygon points="520,1087 535,1092 535,1109 517,1109" fill="rgb(5,5,5)" stroke="rgb(5,5,5)" stroke-width="1.5" stroke-linejoin="round"/>
<ellipse cx="498" cy="1083" rx="4.6" ry="5.9" fill="rgb(92,92,92)"/>
<ellipse cx="498" cy="1095" rx="4.6" ry="4.6" fill="rgb(92,92,92)"/>
<ellipse cx="503" cy="1043" rx="2.5" ry="2.5" fill="rgb(143,143,143)"/>
<polygon points="687,1060 700,1060 700,1109 689,1109" fill="rgb(117,117,117)" stroke="rgb(117,117,117)" stroke-width="1.5" stroke-linejoin="round"/>
<ellipse cx="599" cy="817" rx="7.1" ry="2.8" fill="rgb(92,92,92)"/>
<polygon points="827,842 842,842 841,850 836,858 831,851" fill="rgb(117,117,117)" stroke="rgb(117,117,117)" stroke-width="1.5" stroke-linejoin="round"/>
<ellipse cx="939" cy="832" rx="2.3" ry="4.3" fill="rgb(92,92,92)"/>
<polygon points="963,883 968,876 975,877 999,881 999,887 976,888 974,901 968,904 966,893" fill="rgb(117,117,117)" stroke="rgb(117,117,117)" stroke-width="1.5" stroke-linejoin="round"/>
<ellipse cx="972" cy="884" rx="4.6" ry="2.5" fill="rgb(5,5,5)"/>
<polygon points="814,972 825,970 836,976 839,988 855,992 859,998 853,1002 817,1003 812,993" fill="rgb(117,117,117)" stroke="rgb(117,117,117)" stroke-width="1.5" stroke-linejoin="round"/>
<polygon points="816,974 825,972 835,978 837,989 853,993 855,998 818,1000 815,993" fill="rgb(43,43,43)" stroke="rgb(43,43,43)" stroke-width="1.5" stroke-linejoin="round"/>
<polygon points="818,975 833,978 836,993 819,995 817,985" fill="rgb(5,5,5)" stroke="rgb(5,5,5)" stroke-width="1.5" stroke-linejoin="round"/>
<ellipse cx="972" cy="1003" rx="3.8" ry="3.1" fill="rgb(143,143,143)"/>
<polygon points="684,1062 696,1062 702,1085 709,1095 709,1109 684,1109" fill="rgb(117,117,117)" stroke="rgb(117,117,117)" stroke-width="1.5" stroke-linejoin="round"/>
<polygon points="684,1092 705,1095 705,1109 684,1109" fill="rgb(43,43,43)" stroke="rgb(43,43,43)" stroke-width="1.5" stroke-linejoin="round"/>
<polygon points="760,1093 766,1088 807,1091 833,1097 833,1109 758,1109" fill="rgb(117,117,117)" stroke="rgb(117,117,117)" stroke-width="1.5" stroke-linejoin="round"/>
<polygon points="763,1092 802,1093 804,1109 763,1109" fill="rgb(5,5,5)" stroke="rgb(5,5,5)" stroke-width="1.5" stroke-linejoin="round"/>
<polygon points="976,1093 999,1092 999,1109 976,1109" fill="rgb(117,117,117)" stroke="rgb(117,117,117)" stroke-width="1.5" stroke-linejoin="round"/></g>
</g>
<g clip-path="url(#cr)">
<g filter="url(#cmR)"><rect x="1329" y="222" width="951.5" height="894.5" fill="rgb(76,76,76)"/>
<g filter="url(#b1)"><polygon points="1341,234 1667,234 1667,540 1341,540" fill="rgb(46,46,46)"/>
<polygon points="1578,234 1667,234 1667,324 1594,324 1589,280" fill="rgb(117,117,117)" stroke="rgb(117,117,117)" stroke-width="6" stroke-linejoin="round"/>
<polygon points="1492,380 1540,375 1578,395 1594,375 1611,395 1617,436 1578,446 1527,420 1507,436 1512,471 1527,507 1476,512 1461,484 1476,441 1471,400" fill="rgb(117,117,117)" stroke="rgb(117,117,117)" stroke-width="6" stroke-linejoin="round"/>
<polygon points="1387,512 1451,517 1553,522 1667,512 1667,540 1387,540" fill="rgb(117,117,117)" stroke="rgb(117,117,117)" stroke-width="6" stroke-linejoin="round"/>
<polygon points="1527,446 1667,420 1667,497 1538,497" fill="rgb(64,64,64)"/>
<polygon points="1617,331 1667,331 1667,420 1617,420" fill="rgb(87,87,87)"/>
<polygon points="1425,293 1476,293 1476,357 1425,357" fill="rgb(69,69,69)"/>
<polygon points="1443,234 1578,234 1578,267 1476,273 1443,267" fill="rgb(48,48,48)"/>
<polygon points="1341,234 1400,234 1425,275 1405,306 1400,349 1341,352" fill="rgb(10,10,10)" stroke="rgb(10,10,10)" stroke-width="4" stroke-linejoin="round"/>
<polygon points="1341,369 1400,375 1425,364 1456,364 1456,420 1425,436 1431,484 1420,502 1400,471 1341,466" fill="rgb(15,15,15)" stroke="rgb(15,15,15)" stroke-width="4" stroke-linejoin="round"/>
<polygon points="1484,288 1507,275 1532,275 1548,293 1548,344 1487,352" fill="rgb(15,15,15)"/>
<ellipse cx="1515" cy="290" rx="15.3" ry="10.2" fill="rgb(5,5,5)"/>
<ellipse cx="1566" cy="344" rx="7.6" ry="7.6" fill="rgb(26,26,26)"/>
<polygon points="1645,234 1971,234 1971,540 1645,540" fill="rgb(112,112,112)"/>
<polygon points="1786,234 1946,234 1946,369 1971,395 1971,459 1933,451 1882,420 1877,375 1806,364 1760,318 1765,280" fill="rgb(51,51,51)"/>
<polygon points="1811,257 1870,257 1857,318 1816,313" fill="rgb(38,38,38)"/>
<polygon points="1882,385 1908,385 1908,405 1882,405" fill="rgb(46,46,46)"/>
<ellipse cx="1867" cy="252" rx="12.7" ry="10.2" fill="rgb(20,20,20)"/>
<polygon points="1645,349 1681,349 1681,395 1668,484 1645,497" fill="rgb(64,64,64)"/>
<polygon points="1645,357 1673,357 1668,395 1645,395" fill="rgb(64,64,64)"/>
<polygon points="1949,234 2268,234 2268,540 1949,540" fill="rgb(51,51,51)"/>
<polygon points="1949,234 1982,234 1990,306 1982,344 1949,349" fill="rgb(107,107,107)"/>
<polygon points="2120,234 2268,234 2268,262 2186,267 2135,257" fill="rgb(117,117,117)" stroke="rgb(117,117,117)" stroke-width="5" stroke-linejoin="round"/>
<polygon points="1949,385 1990,385 1995,471 1988,540 1949,540" fill="rgb(102,102,102)"/>
<polygon points="2059,400 2105,392 2110,420 2072,425" fill="rgb(115,115,115)" stroke="rgb(115,115,115)" stroke-width="5" stroke-linejoin="round"/>
<polygon points="2054,443 2079,443 2084,484 2135,487 2146,507 2135,527 2084,522 2064,492" fill="rgb(117,117,117)" stroke="rgb(117,117,117)" stroke-width="5" stroke-linejoin="round"/>
<polygon points="2199,364 2268,349 2268,446 2237,446 2197,431 2186,408" fill="rgb(117,117,117)" stroke="rgb(117,117,117)" stroke-width="5" stroke-linejoin="round"/>
<polygon points="2166,443 2181,443 2181,471 2166,471" fill="rgb(117,117,117)"/>
<polygon points="2186,471 2268,446 2268,540 2186,540" fill="rgb(92,92,92)"/>
<polygon points="2033,257 2072,257 2084,293 2135,275 2212,288 2268,273 2268,313 2225,354 2186,359 2146,375 2110,375 2095,352 2046,385 2016,362 2028,339 2041,306" fill="rgb(13,13,13)" stroke="rgb(13,13,13)" stroke-width="4" stroke-linejoin="round"/>
<polygon points="2095,339 2146,318 2151,369 2110,372" fill="rgb(0,0,0)" stroke="rgb(0,0,0)" stroke-width="4" stroke-linejoin="round"/>
<polygon points="2217,293 2237,293 2237,313 2217,313" fill="rgb(8,8,8)"/>
<polygon points="2079,267 2105,267 2110,301 2084,303" fill="rgb(56,56,56)"/>
<ellipse cx="2116" cy="454" rx="12.7" ry="15.3" fill="rgb(20,20,20)"/>
<ellipse cx="2046" cy="520" rx="20.4" ry="15.3" fill="rgb(13,13,13)"/>
<ellipse cx="2169" cy="385" rx="10.2" ry="10.2" fill="rgb(31,31,31)"/>
<polygon points="1341,519 1667,519 1667,825 1341,825" fill="rgb(64,64,64)"/>
<polygon points="1492,519 1667,519 1667,731 1527,726 1543,680 1563,642 1578,603 1512,578 1502,547" fill="rgb(117,117,117)" stroke="rgb(117,117,117)" stroke-width="5" stroke-linejoin="round"/>
<polygon points="1515,601 1545,601 1545,649 1515,649" fill="rgb(51,51,51)"/>
<polygon points="1548,578 1604,591 1604,642 1566,642" fill="rgb(97,97,97)"/>
<polygon points="1341,519 1387,519 1374,578 1359,629 1341,629" fill="rgb(56,56,56)"/>
<polygon points="1359,578 1395,519 1476,519 1502,565 1502,616 1471,705 1433,728 1374,721 1359,680" fill="rgb(117,117,117)" stroke="rgb(117,117,117)" stroke-width="5" stroke-linejoin="round"/>
<polygon points="1408,552 1464,552 1464,624 1438,670 1403,680 1400,629" fill="rgb(51,51,51)"/>
<polygon points="1425,552 1451,558 1456,583 1446,611 1425,634 1415,629 1420,591" fill="rgb(13,13,13)" stroke="rgb(13,13,13)" stroke-width="4" stroke-linejoin="round"/>
<polygon points="1341,795 1374,769 1425,749 1456,744 1471,756 1451,769 1413,782 1374,807 1359,825 1341,825" fill="rgb(20,20,20)" stroke="rgb(20,20,20)" stroke-width="4" stroke-linejoin="round"/>
<polygon points="1387,807 1464,782 1512,761 1527,728 1667,726 1667,825 1387,825" fill="rgb(117,117,117)" stroke="rgb(117,117,117)" stroke-width="5" stroke-linejoin="round"/>
<polygon points="1635,509 1981,509 1981,835 1635,835" fill="rgb(163,163,163)"/>
<polygon points="1645,519 1717,519 1704,565 1645,578" fill="rgb(189,189,189)"/>
<polygon points="1673,519 1694,519 1691,542 1676,542" fill="rgb(209,209,209)"/>
<polygon points="1645,670 1704,670 1724,705 1724,756 1735,825 1645,825" fill="rgb(194,194,194)"/>
<polygon points="1686,782 1729,782 1735,825 1689,825" fill="rgb(245,245,245)"/>
<polygon points="1678,675 1704,675 1704,690 1678,690" fill="rgb(214,214,214)"/>
<polygon points="1893,591 1971,565 1971,649 1933,649 1908,690 1887,690" fill="rgb(194,194,194)"/>
<polygon points="1913,598 1971,593 1971,629 1928,629" fill="rgb(245,245,245)"/>
<polygon points="1750,756 1831,756 1857,782 1921,782 1921,825 1735,825" fill="rgb(173,173,173)"/>
<polygon points="1949,519 2268,519 2268,825 1949,825" fill="rgb(56,56,56)"/>
<polygon points="2161,685 2268,685 2268,825 2161,825" fill="rgb(41,41,41)"/>
<polygon points="1995,705 2054,705 2054,825 2008,825" fill="rgb(36,36,36)"/>
<polygon points="2021,519 2059,519 2049,578 2021,573" fill="rgb(5,5,5)" stroke="rgb(5,5,5)" stroke-width="6" stroke-linejoin="round"/>
<polygon points="2005,657 2039,660 2059,680 2090,685 2090,700 2059,700 2028,705 2008,690" fill="rgb(18,18,18)" stroke="rgb(18,18,18)" stroke-width="4" stroke-linejoin="round"/>
<polygon points="2028,746 2049,751 2049,782 2028,777" fill="rgb(10,10,10)" stroke="rgb(10,10,10)" stroke-width="5" stroke-linejoin="round"/>
<polygon points="2186,769 2212,769 2225,807 2191,807" fill="rgb(10,10,10)" stroke="rgb(10,10,10)" stroke-width="5" stroke-linejoin="round"/>
<polygon points="2245,537 2268,537 2268,558 2245,555" fill="rgb(20,20,20)"/>
<polygon points="2232,700 2268,698 2268,708 2232,708" fill="rgb(31,31,31)"/>
<polygon points="2064,583 2110,560 2125,560 2130,591 2146,619 2135,634 2110,629 2100,662 2084,660 2079,629 2064,609" fill="rgb(117,117,117)" stroke="rgb(117,117,117)" stroke-width="5" stroke-linejoin="round"/>
<polygon points="2161,611 2237,606 2242,629 2225,670 2174,675 2158,642" fill="rgb(117,117,117)" stroke="rgb(117,117,117)" stroke-width="5" stroke-linejoin="round"/>
<polygon points="1982,519 2000,519 1993,603 1989,654 1988,705 1985,769 1949,777 1949,519" fill="rgb(112,112,112)"/>
<polygon points="2054,710 2074,710 2077,744 2059,749" fill="rgb(117,117,117)" stroke="rgb(117,117,117)" stroke-width="5" stroke-linejoin="round"/>
<polygon points="2095,519 2135,519 2123,531" fill="rgb(117,117,117)"/>
<polygon points="1341,804 1667,804 1667,1105 1341,1105" fill="rgb(112,112,112)"/>
<polygon points="1341,888 1425,883 1476,871 1527,863 1543,914 1566,934 1568,965 1527,990 1476,1016 1425,1029 1400,1041 1400,1105 1341,1105 1341,1036 1374,1031 1387,990 1364,965 1341,955" fill="rgb(64,64,64)"/>
<polygon points="1451,922 1476,927 1538,924 1538,955 1507,975 1476,965 1446,970 1443,945" fill="rgb(20,20,20)" stroke="rgb(20,20,20)" stroke-width="4" stroke-linejoin="round"/>
<polygon points="1420,995 1446,990 1446,1011 1420,1016" fill="rgb(38,38,38)"/>
<polygon points="1341,909 1367,914 1362,932 1341,932" fill="rgb(26,26,26)"/>
<polygon points="1341,1067 1364,1072 1357,1082 1341,1082" fill="rgb(26,26,26)"/>
<polygon points="1341,804 1369,804 1341,832" fill="rgb(51,51,51)"/>
<polygon points="1527,1067 1667,1054 1667,1105 1527,1105" fill="rgb(92,92,92)"/>
<polygon points="1645,804 1971,804 1971,1105 1645,1105" fill="rgb(115,115,115)"/>
<polygon points="1877,873 1893,871 1908,896 1971,899 1971,1105 1882,1105 1877,1016 1882,965 1893,934 1872,919 1877,899" fill="rgb(43,43,43)"/>
<polygon points="1903,965 1933,970 1959,995 1949,1016 1923,1011 1908,990" fill="rgb(5,5,5)" stroke="rgb(5,5,5)" stroke-width="8" stroke-linejoin="round"/>
<polygon points="1946,934 1971,934 1971,955 1946,950" fill="rgb(38,38,38)"/>
<polygon points="1944,1029 1971,1029 1971,1067 1949,1062" fill="rgb(20,20,20)" stroke="rgb(20,20,20)" stroke-width="4" stroke-linejoin="round"/>
<polygon points="1684,922 1717,924 1724,955 1727,985 1686,990 1681,955" fill="rgb(82,82,82)"/>
<polygon points="1737,863 1752,863 1752,888 1737,888" fill="rgb(97,97,97)"/>
<polygon points="1645,1036 1678,1041 1704,1067 1742,1082 1775,1052 1796,1067 1816,1080 1819,1105 1645,1105" fill="rgb(92,92,92)"/>
<polygon points="1768,1057 1791,1067 1811,1082 1811,1105 1742,1105" fill="rgb(76,76,76)"/>
<polygon points="1949,804 2268,804 2268,1105 1949,1105" fill="rgb(43,43,43)"/>
<polygon points="2135,804 2268,804 2268,965 2212,934 2161,883 2135,850" fill="rgb(36,36,36)"/>
<polygon points="2161,858 2212,863 2222,901 2186,909" fill="rgb(97,97,97)"/>
<polygon points="1949,858 2008,804 2100,804 2115,850 2161,888 2212,939 2237,990 2268,1006 2268,1054 2237,1054 2186,1021 2135,990 2110,955 2072,934 2041,909 2008,899 1949,878" fill="rgb(117,117,117)" stroke="rgb(117,117,117)" stroke-width="5" stroke-linejoin="round"/>
<polygon points="2005,975 2064,965 2090,1006 2135,990 2169,1006 2161,1041 2135,1054 2084,1041 2079,1067 2033,1077 2013,1041" fill="rgb(117,117,117)" stroke="rgb(117,117,117)" stroke-width="5" stroke-linejoin="round"/>
<polygon points="1949,1041 1995,1046 2008,1082 1949,1092" fill="rgb(13,13,13)" stroke="rgb(13,13,13)" stroke-width="5" stroke-linejoin="round"/>
<polygon points="1972,924 2008,934 2008,960 1972,955" fill="rgb(20,20,20)" stroke="rgb(20,20,20)" stroke-width="5" stroke-linejoin="round"/>
<polygon points="2202,822 2227,822 2227,843 2202,843" fill="rgb(15,15,15)" stroke="rgb(15,15,15)" stroke-width="4" stroke-linejoin="round"/>
<polygon points="2232,863 2268,863 2268,896 2232,894" fill="rgb(10,10,10)" stroke="rgb(10,10,10)" stroke-width="5" stroke-linejoin="round"/>
<ellipse cx="2096" cy="975" rx="7.6" ry="7.6" fill="rgb(26,26,26)"/>
<polygon points="2100,848 2125,848 2125,863 2100,863" fill="rgb(51,51,51)"/>
<polygon points="2176,1046 2191,1046 2191,1067 2176,1067" fill="rgb(38,38,38)"/>
<polygon points="2033,1092 2059,1092 2059,1105 2033,1105" fill="rgb(13,13,13)"/></g>
<g filter="url(#b2)"><polygon points="1681,245 1760,245 1780,260 1775,270 1763,275 1755,301 1737,306 1719,308 1704,324 1691,316 1686,293 1689,267" fill="rgb(120,120,120)" stroke="rgb(120,120,120)" stroke-width="10" stroke-linejoin="round"/>
<polygon points="1699,280 1719,278 1722,298 1704,303" fill="rgb(120,120,120)" stroke="rgb(120,120,120)" stroke-width="10" stroke-linejoin="round"/>
<polygon points="1745,255 1765,257 1760,273 1747,270" fill="rgb(120,120,120)" stroke="rgb(120,120,120)" stroke-width="10" stroke-linejoin="round"/>
<polygon points="1698,349 1717,345 1755,354 1786,367 1803,380 1808,405 1819,425 1816,446 1826,454 1921,454 1933,471 1941,507 1971,507 1971,540 1658,540 1673,497 1678,420 1691,385" fill="rgb(120,120,120)" stroke="rgb(120,120,120)" stroke-width="10" stroke-linejoin="round"/>
<polygon points="2219,372 2225,395 2237,413 2235,423 2202,423 2199,415 2212,400" fill="rgb(120,120,120)" stroke="rgb(120,120,120)" stroke-width="10" stroke-linejoin="round"/>
<polygon points="2079,497 2100,499 2115,502 2123,496 2135,497 2138,510 2130,522 2110,524 2090,515" fill="rgb(120,120,120)" stroke="rgb(120,120,120)" stroke-width="10" stroke-linejoin="round"/>
<polygon points="1967,492 1975,487 1982,497 1988,517 1982,540 1962,540 1962,510" fill="rgb(120,120,120)" stroke="rgb(120,120,120)" stroke-width="10" stroke-linejoin="round"/>
<polygon points="1970,502 1980,502 1980,522 1970,522" fill="rgb(120,120,120)" stroke="rgb(120,120,120)" stroke-width="10" stroke-linejoin="round"/>
<polygon points="1382,586 1400,583 1403,603 1395,629 1390,654 1395,680 1395,705 1380,716 1369,700 1367,670 1371,629" fill="rgb(120,120,120)" stroke="rgb(120,120,120)" stroke-width="10" stroke-linejoin="round"/>
<polygon points="1400,519 1413,519 1415,540 1451,537 1469,540 1474,550 1456,547 1415,550 1403,540" fill="rgb(120,120,120)" stroke="rgb(120,120,120)" stroke-width="10" stroke-linejoin="round"/>
<polygon points="1476,563 1489,568 1494,591 1489,614 1476,621 1469,611 1470,586" fill="rgb(120,120,120)" stroke="rgb(120,120,120)" stroke-width="10" stroke-linejoin="round"/>
<polygon points="1453,629 1464,629 1464,654 1459,680 1446,705 1431,721 1418,716 1413,695 1423,677 1436,680 1446,654" fill="rgb(120,120,120)" stroke="rgb(120,120,120)" stroke-width="10" stroke-linejoin="round"/>
<polygon points="1629,519 1667,519 1667,705 1629,700 1614,685 1614,642 1619,624 1632,614 1627,591" fill="rgb(120,120,120)" stroke="rgb(120,120,120)" stroke-width="10" stroke-linejoin="round"/>
<polygon points="1568,677 1599,670 1604,685 1594,710 1583,716 1573,700" fill="rgb(120,120,120)" stroke="rgb(120,120,120)" stroke-width="10" stroke-linejoin="round"/>
<polygon points="1527,731 1578,723 1589,721 1591,733 1617,731 1667,721 1667,825 1466,825 1471,795 1507,772 1522,746" fill="rgb(120,120,120)" stroke="rgb(120,120,120)" stroke-width="10" stroke-linejoin="round"/>
<polygon points="1418,797 1433,792 1461,789 1464,825 1387,825" fill="rgb(120,120,120)" stroke="rgb(120,120,120)" stroke-width="10" stroke-linejoin="round"/>
<polygon points="1949,519 1985,532 1990,552 1982,591 1988,639 1977,649 1949,654" fill="rgb(120,120,120)" stroke="rgb(120,120,120)" stroke-width="10" stroke-linejoin="round"/>
<polygon points="1949,680 1975,682 1985,700 1975,713 1949,718" fill="rgb(120,120,120)" stroke="rgb(120,120,120)" stroke-width="10" stroke-linejoin="round"/>
<polygon points="1949,777 1982,777 2003,795 2013,825 1949,825" fill="rgb(120,120,120)" stroke="rgb(120,120,120)" stroke-width="10" stroke-linejoin="round"/>
<polygon points="2095,713 2120,708 2130,716 2133,736 2146,744 2147,761 2140,782 2146,802 2135,825 2105,825 2102,769 2095,744" fill="rgb(120,120,120)" stroke="rgb(120,120,120)" stroke-width="10" stroke-linejoin="round"/>
<polygon points="1382,817 1425,804 1667,804 1667,978 1645,990 1629,1016 1614,1006 1604,965 1594,945 1586,934 1594,919 1614,894 1609,863 1578,878 1573,863 1566,858 1563,909 1553,914 1545,904 1543,876 1538,858 1515,858 1482,866 1451,881 1433,880 1408,873 1395,858 1374,845" fill="rgb(120,120,120)" stroke="rgb(120,120,120)" stroke-width="10" stroke-linejoin="round"/>
<polygon points="1374,962 1392,957 1413,965 1415,978 1395,985 1374,980" fill="rgb(120,120,120)" stroke="rgb(120,120,120)" stroke-width="10" stroke-linejoin="round"/>
<polygon points="1558,1001 1578,993 1583,1006 1583,1029 1573,1046 1563,1057 1553,1041 1553,1016" fill="rgb(120,120,120)" stroke="rgb(120,120,120)" stroke-width="10" stroke-linejoin="round"/>
<polygon points="1453,1049 1464,1045 1517,1049 1525,1062 1525,1105 1451,1105" fill="rgb(120,120,120)" stroke="rgb(120,120,120)" stroke-width="10" stroke-linejoin="round"/>
<polygon points="1645,804 1862,804 1865,822 1882,827 1893,837 1872,858 1870,888 1875,901 1852,916 1862,937 1880,942 1870,965 1870,1006 1875,1041 1865,1080 1862,1105 1821,1105 1819,1077 1796,1062 1786,1041 1775,1041 1765,1069 1755,1067 1747,1049 1719,1036 1699,1021 1696,1011 1729,1003 1768,1011 1770,1001 1750,990 1732,950 1727,924 1714,922 1755,896 1752,858 1717,866 1681,894 1671,919 1678,955 1668,978 1645,983" fill="rgb(120,120,120)" stroke="rgb(120,120,120)" stroke-width="10" stroke-linejoin="round"/>
<polygon points="1923,804 1971,804 1971,855 1933,853 1931,832" fill="rgb(120,120,120)" stroke="rgb(120,120,120)" stroke-width="10" stroke-linejoin="round"/>
<polygon points="1742,939 1768,939 1768,960 1742,960" fill="rgb(120,120,120)" stroke="rgb(120,120,120)" stroke-width="10" stroke-linejoin="round"/>
<polygon points="1949,804 2008,804 2018,832 2033,858 2044,871 2044,888 2031,895 2008,894 1995,871 1972,858 1949,848" fill="rgb(120,120,120)" stroke="rgb(120,120,120)" stroke-width="10" stroke-linejoin="round"/>
<polygon points="1949,817 1995,820 2008,843 2028,876 2013,881 1988,850 1949,837" fill="rgb(120,120,120)" stroke="rgb(120,120,120)" stroke-width="10" stroke-linejoin="round"/>
<ellipse cx="2051" cy="843" rx="13.9" ry="13.9" fill="rgb(120,120,120)"/>
<polygon points="2102,804 2138,804 2133,820 2115,825 2105,820" fill="rgb(120,120,120)" stroke="rgb(120,120,120)" stroke-width="10" stroke-linejoin="round"/>
<polygon points="2130,911 2146,914 2156,934 2161,950 2181,960 2202,975 2212,990 2237,1011 2258,1016 2268,1041 2245,1046 2225,1029 2199,1013 2179,1008 2156,990 2143,970 2123,955 2118,934" fill="rgb(120,120,120)" stroke="rgb(120,120,120)" stroke-width="10" stroke-linejoin="round"/>
<polygon points="2146,955 2186,980 2212,1006 2186,1001 2156,975" fill="rgb(120,120,120)" stroke="rgb(120,120,120)" stroke-width="10" stroke-linejoin="round"/>
<polygon points="2026,1013 2041,1011 2056,1001 2067,1013 2074,1016 2072,1041 2064,1057 2041,1067 2033,1057 2028,1036" fill="rgb(120,120,120)" stroke="rgb(120,120,120)" stroke-width="10" stroke-linejoin="round"/>
<polygon points="2031,1016 2064,1018 2064,1036 2033,1039" fill="rgb(120,120,120)" stroke="rgb(120,120,120)" stroke-width="10" stroke-linejoin="round"/>
<polygon points="2081,1001 2084,1001 2084,1041 2081,1041" fill="rgb(120,120,120)" stroke="rgb(120,120,120)" stroke-width="10" stroke-linejoin="round"/>
<polygon points="2133,999 2153,997 2163,1011 2153,1026 2146,1041 2135,1046 2129,1041 2130,1016" fill="rgb(120,120,120)" stroke="rgb(120,120,120)" stroke-width="10" stroke-linejoin="round"/></g>
<polygon points="1589,245 1617,245 1617,267 1604,278 1591,279 1586,273" fill="rgb(168,168,168)" stroke="rgb(168,168,168)" stroke-width="3" stroke-linejoin="round"/>
<polygon points="1399,522 1410,520 1415,540 1400,540" fill="rgb(168,168,168)" stroke="rgb(168,168,168)" stroke-width="3" stroke-linejoin="round"/>
<polygon points="1632,526 1667,524 1667,540 1629,540" fill="rgb(168,168,168)" stroke="rgb(168,168,168)" stroke-width="3" stroke-linejoin="round"/>
<polygon points="1681,245 1760,245 1780,260 1775,270 1763,275 1755,301 1737,306 1719,308 1704,324 1691,316 1686,293 1689,267" fill="rgb(168,168,168)" stroke="rgb(168,168,168)" stroke-width="3" stroke-linejoin="round"/>
<polygon points="1699,280 1719,278 1722,298 1704,303" fill="rgb(178,178,178)" stroke="rgb(178,178,178)" stroke-width="3" stroke-linejoin="round"/>
<polygon points="1745,255 1765,257 1760,273 1747,270" fill="rgb(178,178,178)" stroke="rgb(178,178,178)" stroke-width="3" stroke-linejoin="round"/>
<polygon points="1698,349 1717,345 1755,354 1786,367 1803,380 1808,405 1819,425 1816,446 1826,454 1921,454 1933,471 1941,507 1971,507 1971,540 1658,540 1673,497 1678,420 1691,385" fill="rgb(168,168,168)" stroke="rgb(168,168,168)" stroke-width="3" stroke-linejoin="round"/>
<polygon points="2219,372 2225,395 2237,413 2235,423 2202,423 2199,415 2212,400" fill="rgb(168,168,168)" stroke="rgb(168,168,168)" stroke-width="3" stroke-linejoin="round"/>
<polygon points="2079,497 2100,499 2115,502 2123,496 2135,497 2138,510 2130,522 2110,524 2090,515" fill="rgb(168,168,168)" stroke="rgb(168,168,168)" stroke-width="3" stroke-linejoin="round"/>
<polygon points="1967,492 1975,487 1982,497 1988,517 1982,540 1962,540 1962,510" fill="rgb(168,168,168)" stroke="rgb(168,168,168)" stroke-width="3" stroke-linejoin="round"/>
<polygon points="1970,502 1980,502 1980,522 1970,522" fill="rgb(178,178,178)" stroke="rgb(178,178,178)" stroke-width="3" stroke-linejoin="round"/>
<polygon points="1382,586 1400,583 1403,603 1395,629 1390,654 1395,680 1395,705 1380,716 1369,700 1367,670 1371,629" fill="rgb(168,168,168)" stroke="rgb(168,168,168)" stroke-width="3" stroke-linejoin="round"/>
<polygon points="1400,519 1413,519 1415,540 1451,537 1469,540 1474,550 1456,547 1415,550 1403,540" fill="rgb(153,153,153)" stroke="rgb(153,153,153)" stroke-width="3" stroke-linejoin="round"/>
<polygon points="1476,563 1489,568 1494,591 1489,614 1476,621 1469,611 1470,586" fill="rgb(168,168,168)" stroke="rgb(168,168,168)" stroke-width="3" stroke-linejoin="round"/>
<polygon points="1453,629 1464,629 1464,654 1459,680 1446,705 1431,721 1418,716 1413,695 1423,677 1436,680 1446,654" fill="rgb(168,168,168)" stroke="rgb(168,168,168)" stroke-width="3" stroke-linejoin="round"/>
<polygon points="1629,519 1667,519 1667,705 1629,700 1614,685 1614,642 1619,624 1632,614 1627,591" fill="rgb(168,168,168)" stroke="rgb(168,168,168)" stroke-width="3" stroke-linejoin="round"/>
<polygon points="1568,677 1599,670 1604,685 1594,710 1583,716 1573,700" fill="rgb(161,161,161)" stroke="rgb(161,161,161)" stroke-width="3" stroke-linejoin="round"/>
<polygon points="1527,731 1578,723 1589,721 1591,733 1617,731 1667,721 1667,825 1466,825 1471,795 1507,772 1522,746" fill="rgb(168,168,168)" stroke="rgb(168,168,168)" stroke-width="3" stroke-linejoin="round"/>
<polygon points="1418,797 1433,792 1461,789 1464,825 1387,825" fill="rgb(168,168,168)" stroke="rgb(168,168,168)" stroke-width="3" stroke-linejoin="round"/>
<polygon points="1645,519 1971,519 1971,825 1645,825" fill="rgb(168,168,168)" stroke="rgb(168,168,168)" stroke-width="3" stroke-linejoin="round"/>
<polygon points="1949,519 1985,532 1990,552 1982,591 1988,639 1977,649 1949,654" fill="rgb(168,168,168)" stroke="rgb(168,168,168)" stroke-width="3" stroke-linejoin="round"/>
<polygon points="1949,680 1975,682 1985,700 1975,713 1949,718" fill="rgb(168,168,168)" stroke="rgb(168,168,168)" stroke-width="3" stroke-linejoin="round"/>
<polygon points="1949,777 1982,777 2003,795 2013,825 1949,825" fill="rgb(168,168,168)" stroke="rgb(168,168,168)" stroke-width="3" stroke-linejoin="round"/>
<polygon points="2095,713 2120,708 2130,716 2133,736 2146,744 2147,761 2140,782 2146,802 2135,825 2105,825 2102,769 2095,744" fill="rgb(168,168,168)" stroke="rgb(168,168,168)" stroke-width="3" stroke-linejoin="round"/>
<polygon points="1382,817 1425,804 1667,804 1667,978 1645,990 1629,1016 1614,1006 1604,965 1594,945 1586,934 1594,919 1614,894 1609,863 1578,878 1573,863 1566,858 1563,909 1553,914 1545,904 1543,876 1538,858 1515,858 1482,866 1451,881 1433,880 1408,873 1395,858 1374,845" fill="rgb(168,168,168)" stroke="rgb(168,168,168)" stroke-width="3" stroke-linejoin="round"/>
<polygon points="1374,962 1392,957 1413,965 1415,978 1395,985 1374,980" fill="rgb(168,168,168)" stroke="rgb(168,168,168)" stroke-width="3" stroke-linejoin="round"/>
<polygon points="1558,1001 1578,993 1583,1006 1583,1029 1573,1046 1563,1057 1553,1041 1553,1016" fill="rgb(168,168,168)" stroke="rgb(168,168,168)" stroke-width="3" stroke-linejoin="round"/>
<polygon points="1453,1049 1464,1045 1517,1049 1525,1062 1525,1105 1451,1105" fill="rgb(168,168,168)" stroke="rgb(168,168,168)" stroke-width="3" stroke-linejoin="round"/>
<polygon points="1645,804 1862,804 1865,822 1882,827 1893,837 1872,858 1870,888 1875,901 1852,916 1862,937 1880,942 1870,965 1870,1006 1875,1041 1865,1080 1862,1105 1821,1105 1819,1077 1796,1062 1786,1041 1775,1041 1765,1069 1755,1067 1747,1049 1719,1036 1699,1021 1696,1011 1729,1003 1768,1011 1770,1001 1750,990 1732,950 1727,924 1714,922 1755,896 1752,858 1717,866 1681,894 1671,919 1678,955 1668,978 1645,983" fill="rgb(168,168,168)" stroke="rgb(168,168,168)" stroke-width="3" stroke-linejoin="round"/>
<polygon points="1923,804 1971,804 1971,855 1933,853 1931,832" fill="rgb(168,168,168)" stroke="rgb(168,168,168)" stroke-width="3" stroke-linejoin="round"/>
<polygon points="1742,939 1768,939 1768,960 1742,960" fill="rgb(178,178,178)" stroke="rgb(178,178,178)" stroke-width="3" stroke-linejoin="round"/>
<polygon points="1949,804 2008,804 2018,832 2033,858 2044,871 2044,888 2031,895 2008,894 1995,871 1972,858 1949,848" fill="rgb(168,168,168)" stroke="rgb(168,168,168)" stroke-width="3" stroke-linejoin="round"/>
<polygon points="1949,817 1995,820 2008,843 2028,876 2013,881 1988,850 1949,837" fill="rgb(178,178,178)" stroke="rgb(178,178,178)" stroke-width="3" stroke-linejoin="round"/>
<polygon points="2102,804 2138,804 2133,820 2115,825 2105,820" fill="rgb(158,158,158)" stroke="rgb(158,158,158)" stroke-width="3" stroke-linejoin="round"/>
<polygon points="2130,911 2146,914 2156,934 2161,950 2181,960 2202,975 2212,990 2237,1011 2258,1016 2268,1041 2245,1046 2225,1029 2199,1013 2179,1008 2156,990 2143,970 2123,955 2118,934" fill="rgb(168,168,168)" stroke="rgb(168,168,168)" stroke-width="3" stroke-linejoin="round"/>
<polygon points="2146,955 2186,980 2212,1006 2186,1001 2156,975" fill="rgb(178,178,178)" stroke="rgb(178,178,178)" stroke-width="3" stroke-linejoin="round"/>
<polygon points="2026,1013 2041,1011 2056,1001 2067,1013 2074,1016 2072,1041 2064,1057 2041,1067 2033,1057 2028,1036" fill="rgb(168,168,168)" stroke="rgb(168,168,168)" stroke-width="3" stroke-linejoin="round"/>
<polygon points="2031,1016 2064,1018 2064,1036 2033,1039" fill="rgb(178,178,178)" stroke="rgb(178,178,178)" stroke-width="3" stroke-linejoin="round"/>
<polygon points="2081,1001 2084,1001 2084,1041 2081,1041" fill="rgb(168,168,168)" stroke="rgb(168,168,168)" stroke-width="3" stroke-linejoin="round"/>
<polygon points="2133,999 2153,997 2163,1011 2153,1026 2146,1041 2135,1046 2129,1041 2130,1016" fill="rgb(168,168,168)" stroke="rgb(168,168,168)" stroke-width="3" stroke-linejoin="round"/>
<g filter="url(#b3)"><polygon points="1589,245 1617,245 1617,267 1604,278 1591,279 1586,273" fill="rgb(179,179,179)"/>
<polygon points="1399,522 1410,520 1415,540 1400,540" fill="rgb(179,179,179)"/>
<polygon points="1632,526 1667,524 1667,540 1629,540" fill="rgb(179,179,179)"/>
<polygon points="1681,245 1760,245 1780,260 1775,270 1763,275 1755,301 1737,306 1719,308 1704,324 1691,316 1686,293 1689,267" fill="rgb(179,179,179)"/>
<polygon points="1699,280 1719,278 1722,298 1704,303" fill="rgb(189,189,189)"/>
<polygon points="1745,255 1765,257 1760,273 1747,270" fill="rgb(189,189,189)"/>
<polygon points="1698,349 1717,345 1755,354 1786,367 1803,380 1808,405 1819,425 1816,446 1826,454 1921,454 1933,471 1941,507 1971,507 1971,540 1658,540 1673,497 1678,420 1691,385" fill="rgb(179,179,179)"/>
<polygon points="2219,372 2225,395 2237,413 2235,423 2202,423 2199,415 2212,400" fill="rgb(179,179,179)"/>
<polygon points="2079,497 2100,499 2115,502 2123,496 2135,497 2138,510 2130,522 2110,524 2090,515" fill="rgb(179,179,179)"/>
<polygon points="1967,492 1975,487 1982,497 1988,517 1982,540 1962,540 1962,510" fill="rgb(179,179,179)"/>
<polygon points="1970,502 1980,502 1980,522 1970,522" fill="rgb(189,189,189)"/>
<polygon points="1382,586 1400,583 1403,603 1395,629 1390,654 1395,680 1395,705 1380,716 1369,700 1367,670 1371,629" fill="rgb(179,179,179)"/>
<polygon points="1400,519 1413,519 1415,540 1451,537 1469,540 1474,550 1456,547 1415,550 1403,540" fill="rgb(163,163,163)"/>
<polygon points="1476,563 1489,568 1494,591 1489,614 1476,621 1469,611 1470,586" fill="rgb(179,179,179)"/>
<polygon points="1453,629 1464,629 1464,654 1459,680 1446,705 1431,721 1418,716 1413,695 1423,677 1436,680 1446,654" fill="rgb(179,179,179)"/>
<polygon points="1629,519 1667,519 1667,705 1629,700 1614,685 1614,642 1619,624 1632,614 1627,591" fill="rgb(179,179,179)"/>
<polygon points="1568,677 1599,670 1604,685 1594,710 1583,716 1573,700" fill="rgb(171,171,171)"/>
<polygon points="1527,731 1578,723 1589,721 1591,733 1617,731 1667,721 1667,825 1466,825 1471,795 1507,772 1522,746" fill="rgb(179,179,179)"/>
<polygon points="1418,797 1433,792 1461,789 1464,825 1387,825" fill="rgb(179,179,179)"/>
<polygon points="1645,519 1971,519 1971,825 1645,825" fill="rgb(179,179,179)"/>
<polygon points="1949,519 1985,532 1990,552 1982,591 1988,639 1977,649 1949,654" fill="rgb(179,179,179)"/>
<polygon points="1949,680 1975,682 1985,700 1975,713 1949,718" fill="rgb(179,179,179)"/>
<polygon points="1949,777 1982,777 2003,795 2013,825 1949,825" fill="rgb(179,179,179)"/>
<polygon points="2095,713 2120,708 2130,716 2133,736 2146,744 2147,761 2140,782 2146,802 2135,825 2105,825 2102,769 2095,744" fill="rgb(179,179,179)"/>
<polygon points="1382,817 1425,804 1667,804 1667,978 1645,990 1629,1016 1614,1006 1604,965 1594,945 1586,934 1594,919 1614,894 1609,863 1578,878 1573,863 1566,858 1563,909 1553,914 1545,904 1543,876 1538,858 1515,858 1482,866 1451,881 1433,880 1408,873 1395,858 1374,845" fill="rgb(179,179,179)"/>
<polygon points="1374,962 1392,957 1413,965 1415,978 1395,985 1374,980" fill="rgb(179,179,179)"/>
<polygon points="1558,1001 1578,993 1583,1006 1583,1029 1573,1046 1563,1057 1553,1041 1553,1016" fill="rgb(179,179,179)"/>
<polygon points="1453,1049 1464,1045 1517,1049 1525,1062 1525,1105 1451,1105" fill="rgb(179,179,179)"/>
<polygon points="1645,804 1862,804 1865,822 1882,827 1893,837 1872,858 1870,888 1875,901 1852,916 1862,937 1880,942 1870,965 1870,1006 1875,1041 1865,1080 1862,1105 1821,1105 1819,1077 1796,1062 1786,1041 1775,1041 1765,1069 1755,1067 1747,1049 1719,1036 1699,1021 1696,1011 1729,1003 1768,1011 1770,1001 1750,990 1732,950 1727,924 1714,922 1755,896 1752,858 1717,866 1681,894 1671,919 1678,955 1668,978 1645,983" fill="rgb(179,179,179)"/>
<polygon points="1923,804 1971,804 1971,855 1933,853 1931,832" fill="rgb(179,179,179)"/>
<polygon points="1742,939 1768,939 1768,960 1742,960" fill="rgb(189,189,189)"/>
<polygon points="1949,804 2008,804 2018,832 2033,858 2044,871 2044,888 2031,895 2008,894 1995,871 1972,858 1949,848" fill="rgb(179,179,179)"/>
<polygon points="1949,817 1995,820 2008,843 2028,876 2013,881 1988,850 1949,837" fill="rgb(189,189,189)"/>
<polygon points="2102,804 2138,804 2133,820 2115,825 2105,820" fill="rgb(168,168,168)"/>
<polygon points="2130,911 2146,914 2156,934 2161,950 2181,960 2202,975 2212,990 2237,1011 2258,1016 2268,1041 2245,1046 2225,1029 2199,1013 2179,1008 2156,990 2143,970 2123,955 2118,934" fill="rgb(179,179,179)"/>
<polygon points="2146,955 2186,980 2212,1006 2186,1001 2156,975" fill="rgb(189,189,189)"/>
<polygon points="2026,1013 2041,1011 2056,1001 2067,1013 2074,1016 2072,1041 2064,1057 2041,1067 2033,1057 2028,1036" fill="rgb(179,179,179)"/>
<polygon points="2031,1016 2064,1018 2064,1036 2033,1039" fill="rgb(189,189,189)"/>
<polygon points="2081,1001 2084,1001 2084,1041 2081,1041" fill="rgb(179,179,179)"/>
<polygon points="2133,999 2153,997 2163,1011 2153,1026 2146,1041 2135,1046 2129,1041 2130,1016" fill="rgb(179,179,179)"/>
<polygon points="1417,800 1462,793 1538,816 1591,748 1644,740 1727,770 1742,823 1689,853 1644,868 1651,929 1621,936 1613,868 1538,853 1443,868 1421,846" fill="rgb(209,209,209)"/>
<polygon points="1613,664 1719,664 1727,748 1651,748 1621,710" fill="rgb(204,204,204)"/>
<polygon points="1761,831 1795,831 1795,906 1765,914" fill="rgb(204,204,204)"/>
<polygon points="1742,936 1817,936 1817,974 1750,974" fill="rgb(194,194,194)"/>
<polygon points="1428,804 1462,800 1470,823 1530,823 1534,846 1462,853 1436,868 1428,846" fill="rgb(242,242,242)"/>
<polygon points="1595,755 1632,755 1636,800 1606,804" fill="rgb(242,242,242)"/>
<polygon points="1685,785 1731,785 1734,816 1708,838 1689,831" fill="rgb(242,242,242)"/>
<polygon points="1685,420 1723,423 1723,488 1704,529 1674,544 1666,506 1678,469" fill="rgb(209,209,209)"/>
<polygon points="1621,612 1659,605 1663,650 1621,658" fill="rgb(194,194,194)"/>
<polygon points="1689,265 1765,257 1746,299 1704,302" fill="rgb(189,189,189)"/>
<polygon points="1727,355 1802,363 1817,423 1784,423 1765,393 1727,386" fill="rgb(189,189,189)"/>
<polygon points="1801,469 1832,469 1839,514 1801,529" fill="rgb(204,204,204)"/>
<polygon points="1896,582 1975,567 1983,620 1968,680 1892,680" fill="rgb(214,214,214)"/>
<polygon points="1915,593 1968,597 1968,635 1922,635" fill="rgb(245,245,245)"/>
<polygon points="1817,816 1858,816 1862,936 1858,1050 1817,1050" fill="rgb(204,204,204)"/>
<polygon points="1820,936 1858,936 1858,997 1820,997" fill="rgb(242,242,242)"/>
<polygon points="1885,664 1907,664 1903,695 1885,695" fill="rgb(204,204,204)"/></g>
<polygon points="1634,262 1647,257 1648,273 1637,278" fill="rgb(145,145,145)" stroke="rgb(145,145,145)" stroke-width="3" stroke-linejoin="round"/>
<polygon points="1611,290 1640,288 1640,293 1617,297 1614,304 1610,303" fill="rgb(145,145,145)" stroke="rgb(145,145,145)" stroke-width="3" stroke-linejoin="round"/>
<polygon points="1727,446 1740,438 1765,441 1773,459 1775,497 1780,540 1727,540 1724,471" fill="rgb(115,115,115)" stroke="rgb(115,115,115)" stroke-width="3" stroke-linejoin="round"/>
<polygon points="1737,459 1760,459 1765,497 1737,497" fill="rgb(102,102,102)" stroke="rgb(102,102,102)" stroke-width="3" stroke-linejoin="round"/>
<polygon points="1836,456 1857,454 1870,471 1872,497 1857,499 1844,487 1831,466" fill="rgb(117,117,117)" stroke="rgb(117,117,117)" stroke-width="3" stroke-linejoin="round"/>
<polygon points="1742,400 1763,401 1760,408 1745,408" fill="rgb(145,145,145)" stroke="rgb(145,145,145)" stroke-width="3" stroke-linejoin="round"/>
<polygon points="1678,441 1704,425 1719,446 1719,497 1704,540 1673,540 1678,484" fill="rgb(219,219,219)" stroke="rgb(219,219,219)" stroke-width="3" stroke-linejoin="round"/>
<polygon points="1694,451 1712,454 1712,497 1696,497" fill="rgb(245,245,245)" stroke="rgb(245,245,245)" stroke-width="3" stroke-linejoin="round"/>
<polygon points="1712,364 1737,369 1737,395 1714,395" fill="rgb(194,194,194)" stroke="rgb(194,194,194)" stroke-width="3" stroke-linejoin="round"/>
<polygon points="1786,408 1806,408 1806,431 1786,431" fill="rgb(189,189,189)" stroke="rgb(189,189,189)" stroke-width="3" stroke-linejoin="round"/>
<polygon points="1814,476 1836,482 1842,517 1819,520" fill="rgb(189,189,189)" stroke="rgb(189,189,189)" stroke-width="3" stroke-linejoin="round"/>
<polygon points="1819,400 1836,397 1834,418 1821,420" fill="rgb(145,145,145)" stroke="rgb(145,145,145)" stroke-width="3" stroke-linejoin="round"/>
<polygon points="1826,425 1870,420 1875,451 1831,454" fill="rgb(145,145,145)" stroke="rgb(145,145,145)" stroke-width="3" stroke-linejoin="round"/>
<polygon points="1882,497 1971,507 1971,540 1882,540" fill="rgb(145,145,145)" stroke="rgb(145,145,145)" stroke-width="3" stroke-linejoin="round"/>
<polygon points="1780,484 1811,484 1806,540 1780,540" fill="rgb(145,145,145)" stroke="rgb(145,145,145)" stroke-width="3" stroke-linejoin="round"/>
<ellipse cx="2065" cy="464" rx="3.1" ry="3.1" fill="rgb(145,145,145)"/>
<ellipse cx="2207" cy="251" rx="6.4" ry="3.1" fill="rgb(145,145,145)"/>
<ellipse cx="2176" cy="461" rx="2.0" ry="2.0" fill="rgb(145,145,145)"/>
<ellipse cx="1380" cy="677" rx="6.4" ry="12.7" fill="rgb(189,189,189)"/>
<ellipse cx="1482" cy="591" rx="5.1" ry="12.7" fill="rgb(184,184,184)"/>
<polygon points="1637,624 1667,624 1667,642 1637,642" fill="rgb(184,184,184)" stroke="rgb(184,184,184)" stroke-width="3" stroke-linejoin="round"/>
<polygon points="1642,670 1667,670 1667,685 1642,685" fill="rgb(204,204,204)" stroke="rgb(204,204,204)" stroke-width="3" stroke-linejoin="round"/>
<polygon points="1642,519 1667,519 1667,552 1642,552" fill="rgb(184,184,184)" stroke="rgb(184,184,184)" stroke-width="3" stroke-linejoin="round"/>
<polygon points="1538,744 1667,736 1667,825 1492,825 1512,782" fill="rgb(189,189,189)" stroke="rgb(189,189,189)" stroke-width="3" stroke-linejoin="round"/>
<polygon points="1594,756 1629,756 1637,782 1629,825 1617,825 1594,782" fill="rgb(237,237,237)" stroke="rgb(237,237,237)" stroke-width="3" stroke-linejoin="round"/>
<polygon points="1555,784 1568,782 1591,789 1592,800 1586,803 1566,795" fill="rgb(117,117,117)" stroke="rgb(117,117,117)" stroke-width="3" stroke-linejoin="round"/>
<polygon points="1425,802 1461,797 1461,825 1420,825" fill="rgb(204,204,204)" stroke="rgb(204,204,204)" stroke-width="3" stroke-linejoin="round"/>
<polygon points="1614,710 1667,716 1667,721 1614,717" fill="rgb(102,102,102)" stroke="rgb(102,102,102)" stroke-width="3" stroke-linejoin="round"/>
<ellipse cx="1571" cy="550" rx="3.8" ry="7.6" fill="rgb(145,145,145)"/>
<polygon points="1645,519 1717,519 1704,565 1645,578" fill="rgb(194,194,194)" stroke="rgb(194,194,194)" stroke-width="3" stroke-linejoin="round"/>
<polygon points="1645,670 1704,670 1724,705 1724,756 1735,825 1645,825" fill="rgb(199,199,199)" stroke="rgb(199,199,199)" stroke-width="3" stroke-linejoin="round"/>
<polygon points="1686,782 1729,782 1735,825 1689,825" fill="rgb(245,245,245)" stroke="rgb(245,245,245)" stroke-width="3" stroke-linejoin="round"/>
<polygon points="1893,591 1971,565 1971,649 1933,649 1908,690 1887,690" fill="rgb(199,199,199)" stroke="rgb(199,199,199)" stroke-width="3" stroke-linejoin="round"/>
<polygon points="1910,596 1971,588 1971,634 1926,631" fill="rgb(245,245,245)" stroke="rgb(245,245,245)" stroke-width="3" stroke-linejoin="round"/>
<polygon points="1750,756 1831,756 1857,782 1921,782 1921,825 1735,825" fill="rgb(184,184,184)" stroke="rgb(184,184,184)" stroke-width="3" stroke-linejoin="round"/>
<polygon points="1727,519 1775,519 1765,540 1786,540 1806,537 1831,545 1847,555 1857,578 1887,588 1882,629 1877,670 1862,690 1859,705 1857,736 1882,705 1908,703 1921,721 1933,731 1971,716 1971,797 1933,805 1921,777 1882,761 1847,759 1831,751 1816,744 1786,741 1765,746 1742,751 1740,769 1732,774 1724,761 1729,736 1729,705 1714,660 1671,654 1668,644 1696,637 1701,603 1704,573 1714,547" fill="rgb(117,117,117)" stroke="rgb(117,117,117)" stroke-width="3" stroke-linejoin="round"/>
<polygon points="1857,705 1887,700 1893,721 1882,739 1859,741" fill="rgb(163,163,163)" stroke="rgb(163,163,163)" stroke-width="3" stroke-linejoin="round"/>
<polygon points="1722,565 1737,565 1750,598 1786,596 1816,586 1862,593 1872,611 1842,629 1811,634 1780,639 1742,660 1724,680 1719,629" fill="rgb(69,69,69)" stroke="rgb(69,69,69)" stroke-width="3" stroke-linejoin="round"/>
<polygon points="1796,680 1831,670 1842,690 1831,710 1801,716" fill="rgb(66,66,66)" stroke="rgb(66,66,66)" stroke-width="3" stroke-linejoin="round"/>
<polygon points="1806,565 1836,558 1842,583 1806,586" fill="rgb(84,84,84)" stroke="rgb(84,84,84)" stroke-width="3" stroke-linejoin="round"/>
<polygon points="1750,547 1780,542 1783,560 1763,563" fill="rgb(145,145,145)" stroke="rgb(145,145,145)" stroke-width="3" stroke-linejoin="round"/>
<polygon points="1765,665 1780,665 1778,693 1755,710 1740,705 1742,695 1760,685" fill="rgb(145,145,145)" stroke="rgb(145,145,145)" stroke-width="3" stroke-linejoin="round"/>
<polygon points="1936,654 1949,649 1959,660 1959,675 1949,680 1938,672" fill="rgb(117,117,117)" stroke="rgb(117,117,117)" stroke-width="3" stroke-linejoin="round"/>
<polygon points="1645,710 1668,713 1668,721 1645,726" fill="rgb(117,117,117)" stroke="rgb(117,117,117)" stroke-width="3" stroke-linejoin="round"/>
<ellipse cx="1658" cy="609" rx="5.1" ry="5.1" fill="rgb(117,117,117)"/>
<polygon points="1862,805 1882,802 1887,825 1862,825" fill="rgb(117,117,117)" stroke="rgb(117,117,117)" stroke-width="3" stroke-linejoin="round"/>
<polygon points="1913,519 1971,519 1959,537 1933,540 1918,537" fill="rgb(128,128,128)" stroke="rgb(128,128,128)" stroke-width="3" stroke-linejoin="round"/>
<polygon points="1742,751 1765,746 1786,741 1796,782 1755,782" fill="rgb(145,145,145)" stroke="rgb(145,145,145)" stroke-width="3" stroke-linejoin="round"/>
<polygon points="1949,565 1975,565 1977,634 1949,639" fill="rgb(209,209,209)" stroke="rgb(209,209,209)" stroke-width="3" stroke-linejoin="round"/>
<polygon points="1949,603 1967,606 1970,626 1949,629" fill="rgb(245,245,245)" stroke="rgb(245,245,245)" stroke-width="3" stroke-linejoin="round"/>
<polygon points="1967,795 1995,802 1998,825 1967,825" fill="rgb(184,184,184)" stroke="rgb(184,184,184)" stroke-width="3" stroke-linejoin="round"/>
<polygon points="2107,721 2123,721 2125,744 2138,756 2133,769 2112,756" fill="rgb(184,184,184)" stroke="rgb(184,184,184)" stroke-width="3" stroke-linejoin="round"/>
<polygon points="2199,616 2222,616 2222,629 2207,631 2204,644 2199,644" fill="rgb(145,145,145)" stroke="rgb(145,145,145)" stroke-width="3" stroke-linejoin="round"/>
<ellipse cx="2181" cy="629" rx="1.5" ry="7.6" fill="rgb(145,145,145)"/>
<polygon points="1400,822 1667,804 1667,934 1629,939 1624,888 1604,850 1535,853 1476,860 1438,873 1425,850" fill="rgb(189,189,189)" stroke="rgb(189,189,189)" stroke-width="3" stroke-linejoin="round"/>
<polygon points="1431,804 1466,804 1466,822 1532,822 1532,845 1487,855 1451,871 1436,871 1431,845" fill="rgb(245,245,245)" stroke="rgb(245,245,245)" stroke-width="3" stroke-linejoin="round"/>
<polygon points="1459,1054 1520,1057 1520,1105 1459,1105" fill="rgb(219,219,219)" stroke="rgb(219,219,219)" stroke-width="3" stroke-linejoin="round"/>
<polygon points="1877,837 1895,835 1890,853 1875,855" fill="rgb(145,145,145)" stroke="rgb(145,145,145)" stroke-width="3" stroke-linejoin="round"/>
<polygon points="1862,804 1887,804 1882,818 1867,818" fill="rgb(117,117,117)" stroke="rgb(117,117,117)" stroke-width="3" stroke-linejoin="round"/>
<polygon points="1895,837 1908,835 1928,835 1931,853 1921,863 1938,876 1933,883 1908,881 1905,863 1895,850" fill="rgb(117,117,117)" stroke="rgb(117,117,117)" stroke-width="3" stroke-linejoin="round"/>
<polygon points="1908,868 1936,876 1933,883 1910,878" fill="rgb(143,143,143)" stroke="rgb(143,143,143)" stroke-width="3" stroke-linejoin="round"/>
<polygon points="1645,804 1750,804 1729,837 1704,863 1678,876 1645,914" fill="rgb(184,184,184)" stroke="rgb(184,184,184)" stroke-width="3" stroke-linejoin="round"/>
<polygon points="1689,804 1735,804 1724,827 1704,840 1691,835" fill="rgb(245,245,245)" stroke="rgb(245,245,245)" stroke-width="3" stroke-linejoin="round"/>
<polygon points="1763,843 1796,843 1798,901 1768,899" fill="rgb(189,189,189)" stroke="rgb(189,189,189)" stroke-width="3" stroke-linejoin="round"/>
<polygon points="1819,804 1862,804 1865,909 1831,914 1819,888" fill="rgb(194,194,194)" stroke="rgb(194,194,194)" stroke-width="3" stroke-linejoin="round"/>
<polygon points="1811,934 1865,934 1867,1016 1816,1016" fill="rgb(209,209,209)" stroke="rgb(209,209,209)" stroke-width="3" stroke-linejoin="round"/>
<polygon points="1816,939 1857,939 1859,990 1821,990" fill="rgb(237,237,237)" stroke="rgb(237,237,237)" stroke-width="3" stroke-linejoin="round"/>
<polygon points="1780,985 1806,985 1811,1029 1867,1016 1870,1067 1831,1105 1821,1067 1796,1041 1780,1016" fill="rgb(189,189,189)" stroke="rgb(189,189,189)" stroke-width="3" stroke-linejoin="round"/>
<polygon points="1811,1041 1847,1046 1852,1067 1816,1067" fill="rgb(214,214,214)" stroke="rgb(214,214,214)" stroke-width="3" stroke-linejoin="round"/>
<polygon points="1729,1013 1765,1016 1765,1057 1755,1062 1729,1036" fill="rgb(184,184,184)" stroke="rgb(184,184,184)" stroke-width="3" stroke-linejoin="round"/>
<polygon points="1805,817 1811,817 1812,876 1811,919 1791,934 1788,916 1801,909 1802,876" fill="rgb(117,117,117)" stroke="rgb(117,117,117)" stroke-width="3" stroke-linejoin="round"/>
<polygon points="1755,832 1757,832 1754,863 1750,863" fill="rgb(117,117,117)" stroke="rgb(117,117,117)" stroke-width="3" stroke-linejoin="round"/>
<ellipse cx="1675" cy="827" rx="4.6" ry="8.9" fill="rgb(117,117,117)"/>
<polygon points="1741,1085 1801,1085 1801,1105 1741,1105" fill="rgb(0,0,0)" stroke="rgb(0,0,0)" stroke-width="3" stroke-linejoin="round"/>
<ellipse cx="2051" cy="843" rx="8.9" ry="8.9" fill="rgb(161,161,161)"/>
<polygon points="2049,871 2064,868 2084,873 2084,888 2077,914 2061,916 2051,894" fill="rgb(145,145,145)" stroke="rgb(145,145,145)" stroke-width="3" stroke-linejoin="round"/>
<polygon points="2018,985 2044,980 2059,985 2056,1001 2023,1006" fill="rgb(143,143,143)" stroke="rgb(143,143,143)" stroke-width="3" stroke-linejoin="round"/>
<polygon points="2135,1001 2153,1001 2151,1016 2138,1016" fill="rgb(204,204,204)" stroke="rgb(204,204,204)" stroke-width="3" stroke-linejoin="round"/></g>
</g>
<rect x="71.5" y="236.5" width="920" height="866" fill="none" stroke="#000" stroke-width="2.4"/>
<rect x="1349" y="242" width="911.5" height="854.5" fill="none" stroke="#000" stroke-width="2.4"/>
<line x1="191.2" y1="227" x2="191.2" y2="236" stroke="#000" stroke-width="1.6"/>
<text x="191.7" y="215.5" font-size="45" text-anchor="middle" textLength="227" lengthAdjust="spacingAndGlyphs">52°38'36&quot;E</text>
<line x1="360.5" y1="227" x2="360.5" y2="236" stroke="#000" stroke-width="1.6"/>
<line x1="529.8" y1="227" x2="529.8" y2="236" stroke="#000" stroke-width="1.6"/>
<text x="530.3" y="215.5" font-size="45" text-anchor="middle" textLength="227" lengthAdjust="spacingAndGlyphs">52°40'58&quot;E</text>
<line x1="697" y1="227" x2="697" y2="236" stroke="#000" stroke-width="1.6"/>
<line x1="865.2" y1="227" x2="865.2" y2="236" stroke="#000" stroke-width="1.6"/>
<text x="865.7" y="215.5" font-size="45" text-anchor="middle" textLength="227" lengthAdjust="spacingAndGlyphs">52°43'20&quot;E</text>
<line x1="1468.8" y1="233" x2="1468.8" y2="242" stroke="#000" stroke-width="1.6"/>
<text x="1468.3" y="221.5" font-size="45" text-anchor="middle" textLength="225" lengthAdjust="spacingAndGlyphs">52°38'36&quot;E</text>
<line x1="1635.7" y1="233" x2="1635.7" y2="242" stroke="#000" stroke-width="1.6"/>
<line x1="1802" y1="233" x2="1802" y2="242" stroke="#000" stroke-width="1.6"/>
<text x="1801.5" y="221.5" font-size="45" text-anchor="middle" textLength="225" lengthAdjust="spacingAndGlyphs">52°40'58&quot;E</text>
<line x1="1968.5" y1="233" x2="1968.5" y2="242" stroke="#000" stroke-width="1.6"/>
<line x1="2135" y1="233" x2="2135" y2="242" stroke="#000" stroke-width="1.6"/>
<text x="2134.5" y="221.5" font-size="45" text-anchor="middle" textLength="225" lengthAdjust="spacingAndGlyphs">52°43'20&quot;E</text>
<line x1="62" y1="397" x2="71" y2="397" stroke="#000" stroke-width="1.6"/>
<text transform="translate(50.5,399) rotate(-90)" font-size="48" text-anchor="middle" textLength="228" lengthAdjust="spacingAndGlyphs">36°34'24&quot;N</text>
<line x1="62" y1="655" x2="71" y2="655" stroke="#000" stroke-width="1.6"/>
<text transform="translate(50.5,657) rotate(-90)" font-size="48" text-anchor="middle" textLength="228" lengthAdjust="spacingAndGlyphs">36°32'56&quot;N</text>
<line x1="62" y1="914.5" x2="71" y2="914.5" stroke="#000" stroke-width="1.6"/>
<text transform="translate(50.5,916.5) rotate(-90)" font-size="48" text-anchor="middle" textLength="228" lengthAdjust="spacingAndGlyphs">36°31'28&quot;N</text>
<line x1="1340" y1="401" x2="1349" y2="401" stroke="#000" stroke-width="1.6"/>
<text transform="translate(1328.5,402) rotate(-90)" font-size="48" text-anchor="middle" textLength="225" lengthAdjust="spacingAndGlyphs">36°34'24&quot;N</text>
<line x1="1340" y1="657" x2="1349" y2="657" stroke="#000" stroke-width="1.6"/>
<text transform="translate(1328.5,658) rotate(-90)" font-size="48" text-anchor="middle" textLength="225" lengthAdjust="spacingAndGlyphs">36°32'56&quot;N</text>
<line x1="1340" y1="911.5" x2="1349" y2="911.5" stroke="#000" stroke-width="1.6"/>
<text transform="translate(1328.5,912.5) rotate(-90)" font-size="48" text-anchor="middle" textLength="225" lengthAdjust="spacingAndGlyphs">36°31'28&quot;N</text>
<rect x="1008.5" y="428" width="43" height="659.5" fill="url(#cb)"/>
<line x1="1051" y1="756" x2="1055.5" y2="756" stroke="#777" stroke-width="1.6"/>
<rect x="2278.3" y="430.5" width="41" height="653" fill="url(#cb)"/>
<line x1="2319" y1="756" x2="2324" y2="756" stroke="#777" stroke-width="1.6"/>
<text x="1063.5" y="452.8" font-size="71" textLength="118" lengthAdjust="spacingAndGlyphs">0.98</text>
<text x="1063.5" y="1112.8" font-size="71" textLength="118" lengthAdjust="spacingAndGlyphs">0.05</text>
<text x="2332.5" y="456.3" font-size="71" textLength="116" lengthAdjust="spacingAndGlyphs">0.67</text>
<text x="2332.5" y="1108.8" font-size="71" textLength="116" lengthAdjust="spacingAndGlyphs">0.04</text>
</svg>
</body></html>
